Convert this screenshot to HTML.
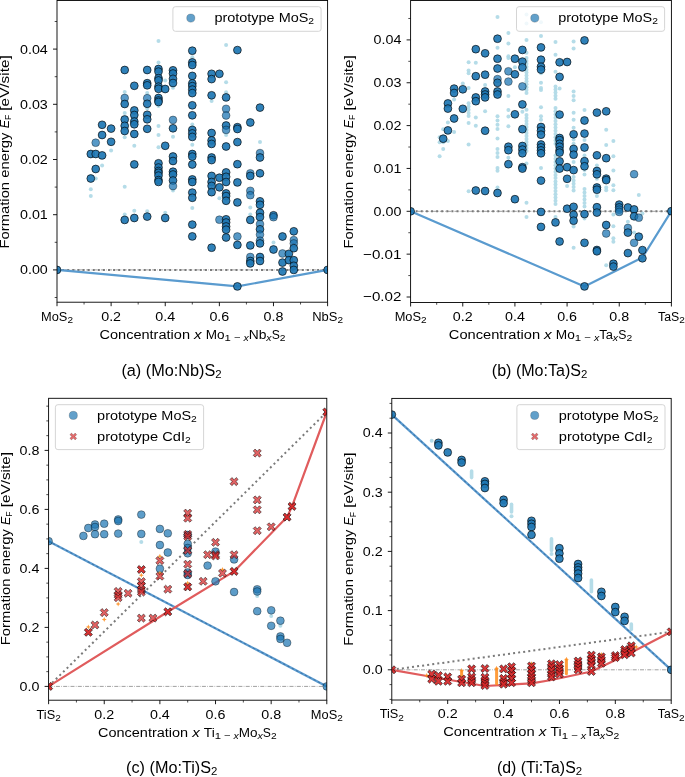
<!DOCTYPE html>
<html><head><meta charset="utf-8"><style>
html,body{margin:0;padding:0;background:#fff;}
svg{display:block;font-family:"Liberation Sans", sans-serif;will-change:transform;}
</style></head><body>
<svg width="685" height="777" viewBox="0 0 685 777">
<rect width="685" height="777" fill="#fff"/>
<clipPath id="clipa"><rect x="57" y="0.5" width="270.6" height="301.7"/></clipPath>
<g clip-path="url(#clipa)">
<line x1="57" y1="269.9" x2="327.6" y2="269.9" stroke="#a0a0a0" stroke-width="1" stroke-dasharray="4,1.3,0.7,1.3"/>
<line x1="57" y1="269.9" x2="327.6" y2="269.9" stroke="#7a7a7a" stroke-width="2.0" stroke-dasharray="2.0,3.1"/>
<circle cx="90.8" cy="189.2" r="2.0" fill="#add8e6" fill-opacity="0.9"/>
<circle cx="90.8" cy="195.9" r="2.0" fill="#add8e6" fill-opacity="0.9"/>
<circle cx="95.7" cy="178.6" r="2.0" fill="#add8e6" fill-opacity="0.9"/>
<circle cx="102.1" cy="165.4" r="2.0" fill="#add8e6" fill-opacity="0.9"/>
<circle cx="111.1" cy="150.6" r="2.0" fill="#add8e6" fill-opacity="0.9"/>
<circle cx="124.7" cy="91.9" r="2.0" fill="#add8e6" fill-opacity="0.9"/>
<circle cx="124.7" cy="113.0" r="2.0" fill="#add8e6" fill-opacity="0.9"/>
<circle cx="124.7" cy="137.3" r="2.0" fill="#add8e6" fill-opacity="0.9"/>
<circle cx="124.7" cy="186.8" r="2.0" fill="#add8e6" fill-opacity="0.9"/>
<circle cx="124.7" cy="214.5" r="2.0" fill="#add8e6" fill-opacity="0.9"/>
<circle cx="134.3" cy="145.8" r="2.0" fill="#add8e6" fill-opacity="0.9"/>
<circle cx="134.3" cy="210.8" r="2.0" fill="#add8e6" fill-opacity="0.9"/>
<circle cx="147.2" cy="93.0" r="2.0" fill="#add8e6" fill-opacity="0.9"/>
<circle cx="147.2" cy="108.4" r="2.0" fill="#add8e6" fill-opacity="0.9"/>
<circle cx="147.2" cy="211.3" r="2.0" fill="#add8e6" fill-opacity="0.9"/>
<circle cx="158.5" cy="40.9" r="2.0" fill="#add8e6" fill-opacity="0.9"/>
<circle cx="158.5" cy="62.6" r="2.0" fill="#add8e6" fill-opacity="0.9"/>
<circle cx="158.5" cy="106.0" r="2.0" fill="#add8e6" fill-opacity="0.9"/>
<circle cx="158.5" cy="126.0" r="2.0" fill="#add8e6" fill-opacity="0.9"/>
<circle cx="158.5" cy="135.0" r="2.0" fill="#add8e6" fill-opacity="0.9"/>
<circle cx="158.5" cy="147.2" r="2.0" fill="#add8e6" fill-opacity="0.9"/>
<circle cx="165.2" cy="80.5" r="2.0" fill="#add8e6" fill-opacity="0.9"/>
<circle cx="165.2" cy="212.7" r="2.0" fill="#add8e6" fill-opacity="0.9"/>
<circle cx="173.0" cy="87.7" r="2.0" fill="#add8e6" fill-opacity="0.9"/>
<circle cx="173.0" cy="136.7" r="2.0" fill="#add8e6" fill-opacity="0.9"/>
<circle cx="173.0" cy="190.6" r="2.0" fill="#add8e6" fill-opacity="0.9"/>
<circle cx="192.3" cy="57.2" r="2.0" fill="#add8e6" fill-opacity="0.9"/>
<circle cx="192.3" cy="124.6" r="2.0" fill="#add8e6" fill-opacity="0.9"/>
<circle cx="192.3" cy="144.8" r="2.0" fill="#add8e6" fill-opacity="0.9"/>
<circle cx="192.3" cy="208.0" r="2.0" fill="#add8e6" fill-opacity="0.9"/>
<circle cx="211.6" cy="101.0" r="2.0" fill="#add8e6" fill-opacity="0.9"/>
<circle cx="219.4" cy="198.2" r="2.0" fill="#add8e6" fill-opacity="0.9"/>
<circle cx="226.1" cy="44.9" r="2.0" fill="#add8e6" fill-opacity="0.9"/>
<circle cx="226.1" cy="82.2" r="2.0" fill="#add8e6" fill-opacity="0.9"/>
<circle cx="226.1" cy="92.2" r="2.0" fill="#add8e6" fill-opacity="0.9"/>
<circle cx="226.1" cy="135.1" r="2.0" fill="#add8e6" fill-opacity="0.9"/>
<circle cx="250.3" cy="207.4" r="2.0" fill="#add8e6" fill-opacity="0.9"/>
<circle cx="250.3" cy="214.5" r="2.0" fill="#add8e6" fill-opacity="0.9"/>
<circle cx="260.0" cy="142.1" r="2.0" fill="#add8e6" fill-opacity="0.9"/>
<circle cx="273.5" cy="242.6" r="2.0" fill="#add8e6" fill-opacity="0.9"/>
<path d="M57.00,269.90 L237.40,286.40 L327.60,269.90" fill="none" stroke="#5a9bcf" stroke-width="2.2" stroke-linejoin="round"/>
<circle cx="90.8" cy="154.0" r="3.9" fill="#1f77b4" fill-opacity="0.93" stroke="#000" stroke-opacity="0.8" stroke-width="0.8"/>
<circle cx="90.8" cy="178.5" r="3.9" fill="#1f77b4" fill-opacity="0.93" stroke="#000" stroke-opacity="0.8" stroke-width="0.8"/>
<circle cx="95.7" cy="142.7" r="3.9" fill="#1f77b4" fill-opacity="0.75" stroke="#000" stroke-opacity="0.45" stroke-width="0.8"/>
<circle cx="95.7" cy="154.0" r="3.9" fill="#1f77b4" fill-opacity="0.93" stroke="#000" stroke-opacity="0.8" stroke-width="0.8"/>
<circle cx="95.7" cy="169.0" r="3.9" fill="#1f77b4" fill-opacity="0.93" stroke="#000" stroke-opacity="0.8" stroke-width="0.8"/>
<circle cx="102.1" cy="124.8" r="3.9" fill="#1f77b4" fill-opacity="0.93" stroke="#000" stroke-opacity="0.8" stroke-width="0.8"/>
<circle cx="102.1" cy="135.0" r="3.9" fill="#1f77b4" fill-opacity="0.93" stroke="#000" stroke-opacity="0.8" stroke-width="0.8"/>
<circle cx="102.1" cy="155.4" r="3.9" fill="#1f77b4" fill-opacity="0.93" stroke="#000" stroke-opacity="0.8" stroke-width="0.8"/>
<circle cx="111.1" cy="128.6" r="3.9" fill="#1f77b4" fill-opacity="0.93" stroke="#000" stroke-opacity="0.8" stroke-width="0.8"/>
<circle cx="111.1" cy="141.8" r="3.9" fill="#1f77b4" fill-opacity="0.93" stroke="#000" stroke-opacity="0.8" stroke-width="0.8"/>
<circle cx="124.7" cy="70.0" r="3.9" fill="#1f77b4" fill-opacity="0.93" stroke="#000" stroke-opacity="0.8" stroke-width="0.8"/>
<circle cx="124.7" cy="98.0" r="3.9" fill="#1f77b4" fill-opacity="0.75" stroke="#000" stroke-opacity="0.45" stroke-width="0.8"/>
<circle cx="124.7" cy="104.0" r="3.9" fill="#1f77b4" fill-opacity="0.93" stroke="#000" stroke-opacity="0.8" stroke-width="0.8"/>
<circle cx="124.7" cy="119.5" r="3.9" fill="#1f77b4" fill-opacity="0.93" stroke="#000" stroke-opacity="0.8" stroke-width="0.8"/>
<circle cx="124.7" cy="125.8" r="3.9" fill="#1f77b4" fill-opacity="0.93" stroke="#000" stroke-opacity="0.8" stroke-width="0.8"/>
<circle cx="124.7" cy="131.0" r="3.9" fill="#1f77b4" fill-opacity="0.93" stroke="#000" stroke-opacity="0.8" stroke-width="0.8"/>
<circle cx="124.7" cy="219.9" r="3.9" fill="#1f77b4" fill-opacity="0.93" stroke="#000" stroke-opacity="0.8" stroke-width="0.8"/>
<circle cx="134.3" cy="85.8" r="3.9" fill="#1f77b4" fill-opacity="0.93" stroke="#000" stroke-opacity="0.8" stroke-width="0.8"/>
<circle cx="134.3" cy="110.4" r="3.9" fill="#1f77b4" fill-opacity="0.93" stroke="#000" stroke-opacity="0.8" stroke-width="0.8"/>
<circle cx="134.3" cy="115.0" r="3.9" fill="#1f77b4" fill-opacity="0.93" stroke="#000" stroke-opacity="0.8" stroke-width="0.8"/>
<circle cx="134.3" cy="121.5" r="3.9" fill="#1f77b4" fill-opacity="0.93" stroke="#000" stroke-opacity="0.8" stroke-width="0.8"/>
<circle cx="134.3" cy="124.3" r="3.9" fill="#1f77b4" fill-opacity="0.93" stroke="#000" stroke-opacity="0.8" stroke-width="0.8"/>
<circle cx="134.3" cy="134.0" r="3.9" fill="#1f77b4" fill-opacity="0.93" stroke="#000" stroke-opacity="0.8" stroke-width="0.8"/>
<circle cx="134.3" cy="164.4" r="3.9" fill="#1f77b4" fill-opacity="0.93" stroke="#000" stroke-opacity="0.8" stroke-width="0.8"/>
<circle cx="134.3" cy="218.0" r="3.9" fill="#1f77b4" fill-opacity="0.93" stroke="#000" stroke-opacity="0.8" stroke-width="0.8"/>
<circle cx="147.2" cy="70.0" r="3.9" fill="#1f77b4" fill-opacity="0.93" stroke="#000" stroke-opacity="0.8" stroke-width="0.8"/>
<circle cx="147.2" cy="83.2" r="3.9" fill="#1f77b4" fill-opacity="0.93" stroke="#000" stroke-opacity="0.8" stroke-width="0.8"/>
<circle cx="147.2" cy="85.3" r="3.9" fill="#1f77b4" fill-opacity="0.93" stroke="#000" stroke-opacity="0.8" stroke-width="0.8"/>
<circle cx="147.2" cy="98.2" r="3.9" fill="#1f77b4" fill-opacity="0.75" stroke="#000" stroke-opacity="0.45" stroke-width="0.8"/>
<circle cx="147.2" cy="103.8" r="3.9" fill="#1f77b4" fill-opacity="0.93" stroke="#000" stroke-opacity="0.8" stroke-width="0.8"/>
<circle cx="147.2" cy="114.8" r="3.9" fill="#1f77b4" fill-opacity="0.93" stroke="#000" stroke-opacity="0.8" stroke-width="0.8"/>
<circle cx="147.2" cy="119.3" r="3.9" fill="#1f77b4" fill-opacity="0.93" stroke="#000" stroke-opacity="0.8" stroke-width="0.8"/>
<circle cx="147.2" cy="128.8" r="3.9" fill="#1f77b4" fill-opacity="0.93" stroke="#000" stroke-opacity="0.8" stroke-width="0.8"/>
<circle cx="147.2" cy="216.6" r="3.9" fill="#1f77b4" fill-opacity="0.93" stroke="#000" stroke-opacity="0.8" stroke-width="0.8"/>
<circle cx="158.5" cy="69.0" r="3.9" fill="#1f77b4" fill-opacity="0.93" stroke="#000" stroke-opacity="0.8" stroke-width="0.8"/>
<circle cx="158.5" cy="71.6" r="3.9" fill="#1f77b4" fill-opacity="0.93" stroke="#000" stroke-opacity="0.8" stroke-width="0.8"/>
<circle cx="158.5" cy="78.2" r="3.9" fill="#1f77b4" fill-opacity="0.93" stroke="#000" stroke-opacity="0.8" stroke-width="0.8"/>
<circle cx="158.5" cy="80.4" r="3.9" fill="#1f77b4" fill-opacity="0.93" stroke="#000" stroke-opacity="0.8" stroke-width="0.8"/>
<circle cx="158.5" cy="86.6" r="3.9" fill="#1f77b4" fill-opacity="0.93" stroke="#000" stroke-opacity="0.8" stroke-width="0.8"/>
<circle cx="158.5" cy="88.8" r="3.9" fill="#1f77b4" fill-opacity="0.93" stroke="#000" stroke-opacity="0.8" stroke-width="0.8"/>
<circle cx="158.5" cy="98.0" r="3.9" fill="#1f77b4" fill-opacity="0.93" stroke="#000" stroke-opacity="0.8" stroke-width="0.8"/>
<circle cx="158.5" cy="100.5" r="3.9" fill="#1f77b4" fill-opacity="0.93" stroke="#000" stroke-opacity="0.8" stroke-width="0.8"/>
<circle cx="158.5" cy="102.0" r="3.9" fill="#1f77b4" fill-opacity="0.93" stroke="#000" stroke-opacity="0.8" stroke-width="0.8"/>
<circle cx="158.5" cy="163.3" r="3.9" fill="#1f77b4" fill-opacity="0.93" stroke="#000" stroke-opacity="0.8" stroke-width="0.8"/>
<circle cx="158.5" cy="167.5" r="3.9" fill="#1f77b4" fill-opacity="0.93" stroke="#000" stroke-opacity="0.8" stroke-width="0.8"/>
<circle cx="158.5" cy="171.0" r="3.9" fill="#1f77b4" fill-opacity="0.93" stroke="#000" stroke-opacity="0.8" stroke-width="0.8"/>
<circle cx="158.5" cy="172.8" r="3.9" fill="#1f77b4" fill-opacity="0.93" stroke="#000" stroke-opacity="0.8" stroke-width="0.8"/>
<circle cx="158.5" cy="175.6" r="3.9" fill="#1f77b4" fill-opacity="0.93" stroke="#000" stroke-opacity="0.8" stroke-width="0.8"/>
<circle cx="158.5" cy="180.1" r="3.9" fill="#1f77b4" fill-opacity="0.93" stroke="#000" stroke-opacity="0.8" stroke-width="0.8"/>
<circle cx="158.5" cy="181.9" r="3.9" fill="#1f77b4" fill-opacity="0.93" stroke="#000" stroke-opacity="0.8" stroke-width="0.8"/>
<circle cx="165.2" cy="89.0" r="3.9" fill="#1f77b4" fill-opacity="0.93" stroke="#000" stroke-opacity="0.8" stroke-width="0.8"/>
<circle cx="165.2" cy="145.8" r="3.9" fill="#1f77b4" fill-opacity="0.93" stroke="#000" stroke-opacity="0.8" stroke-width="0.8"/>
<circle cx="165.2" cy="218.0" r="3.9" fill="#1f77b4" fill-opacity="0.93" stroke="#000" stroke-opacity="0.8" stroke-width="0.8"/>
<circle cx="173.0" cy="70.3" r="3.9" fill="#1f77b4" fill-opacity="0.93" stroke="#000" stroke-opacity="0.8" stroke-width="0.8"/>
<circle cx="173.0" cy="73.5" r="3.9" fill="#1f77b4" fill-opacity="0.93" stroke="#000" stroke-opacity="0.8" stroke-width="0.8"/>
<circle cx="173.0" cy="78.8" r="3.9" fill="#1f77b4" fill-opacity="0.93" stroke="#000" stroke-opacity="0.8" stroke-width="0.8"/>
<circle cx="173.0" cy="83.0" r="3.9" fill="#1f77b4" fill-opacity="0.93" stroke="#000" stroke-opacity="0.8" stroke-width="0.8"/>
<circle cx="173.0" cy="119.9" r="3.9" fill="#1f77b4" fill-opacity="0.75" stroke="#000" stroke-opacity="0.45" stroke-width="0.8"/>
<circle cx="173.0" cy="128.3" r="3.9" fill="#1f77b4" fill-opacity="0.93" stroke="#000" stroke-opacity="0.8" stroke-width="0.8"/>
<circle cx="173.0" cy="156.5" r="3.9" fill="#1f77b4" fill-opacity="0.93" stroke="#000" stroke-opacity="0.8" stroke-width="0.8"/>
<circle cx="173.0" cy="161.0" r="3.9" fill="#1f77b4" fill-opacity="0.93" stroke="#000" stroke-opacity="0.8" stroke-width="0.8"/>
<circle cx="173.0" cy="171.7" r="3.9" fill="#1f77b4" fill-opacity="0.93" stroke="#000" stroke-opacity="0.8" stroke-width="0.8"/>
<circle cx="173.0" cy="174.5" r="3.9" fill="#1f77b4" fill-opacity="0.93" stroke="#000" stroke-opacity="0.8" stroke-width="0.8"/>
<circle cx="173.0" cy="180.5" r="3.9" fill="#1f77b4" fill-opacity="0.93" stroke="#000" stroke-opacity="0.8" stroke-width="0.8"/>
<circle cx="173.0" cy="186.1" r="3.9" fill="#1f77b4" fill-opacity="0.75" stroke="#000" stroke-opacity="0.45" stroke-width="0.8"/>
<circle cx="192.3" cy="50.7" r="3.9" fill="#1f77b4" fill-opacity="0.93" stroke="#000" stroke-opacity="0.8" stroke-width="0.8"/>
<circle cx="192.3" cy="62.4" r="3.9" fill="#1f77b4" fill-opacity="0.93" stroke="#000" stroke-opacity="0.8" stroke-width="0.8"/>
<circle cx="192.3" cy="65.0" r="3.9" fill="#1f77b4" fill-opacity="0.93" stroke="#000" stroke-opacity="0.8" stroke-width="0.8"/>
<circle cx="192.3" cy="75.9" r="3.9" fill="#1f77b4" fill-opacity="0.93" stroke="#000" stroke-opacity="0.8" stroke-width="0.8"/>
<circle cx="192.3" cy="83.4" r="3.9" fill="#1f77b4" fill-opacity="0.93" stroke="#000" stroke-opacity="0.8" stroke-width="0.8"/>
<circle cx="192.3" cy="86.1" r="3.9" fill="#1f77b4" fill-opacity="0.93" stroke="#000" stroke-opacity="0.8" stroke-width="0.8"/>
<circle cx="192.3" cy="89.6" r="3.9" fill="#1f77b4" fill-opacity="0.93" stroke="#000" stroke-opacity="0.8" stroke-width="0.8"/>
<circle cx="192.3" cy="93.1" r="3.9" fill="#1f77b4" fill-opacity="0.93" stroke="#000" stroke-opacity="0.8" stroke-width="0.8"/>
<circle cx="192.3" cy="105.3" r="3.9" fill="#1f77b4" fill-opacity="0.93" stroke="#000" stroke-opacity="0.8" stroke-width="0.8"/>
<circle cx="192.3" cy="115.3" r="3.9" fill="#1f77b4" fill-opacity="0.93" stroke="#000" stroke-opacity="0.8" stroke-width="0.8"/>
<circle cx="192.3" cy="129.9" r="3.9" fill="#1f77b4" fill-opacity="0.93" stroke="#000" stroke-opacity="0.8" stroke-width="0.8"/>
<circle cx="192.3" cy="133.4" r="3.9" fill="#1f77b4" fill-opacity="0.93" stroke="#000" stroke-opacity="0.8" stroke-width="0.8"/>
<circle cx="192.3" cy="136.9" r="3.9" fill="#1f77b4" fill-opacity="0.93" stroke="#000" stroke-opacity="0.8" stroke-width="0.8"/>
<circle cx="192.3" cy="154.0" r="3.9" fill="#1f77b4" fill-opacity="0.93" stroke="#000" stroke-opacity="0.8" stroke-width="0.8"/>
<circle cx="192.3" cy="156.6" r="3.9" fill="#1f77b4" fill-opacity="0.93" stroke="#000" stroke-opacity="0.8" stroke-width="0.8"/>
<circle cx="192.3" cy="164.5" r="3.9" fill="#1f77b4" fill-opacity="0.93" stroke="#000" stroke-opacity="0.8" stroke-width="0.8"/>
<circle cx="192.3" cy="179.4" r="3.9" fill="#1f77b4" fill-opacity="0.93" stroke="#000" stroke-opacity="0.8" stroke-width="0.8"/>
<circle cx="192.3" cy="182.0" r="3.9" fill="#1f77b4" fill-opacity="0.93" stroke="#000" stroke-opacity="0.8" stroke-width="0.8"/>
<circle cx="192.3" cy="192.6" r="3.9" fill="#1f77b4" fill-opacity="0.93" stroke="#000" stroke-opacity="0.8" stroke-width="0.8"/>
<circle cx="192.3" cy="197.8" r="3.9" fill="#1f77b4" fill-opacity="0.93" stroke="#000" stroke-opacity="0.8" stroke-width="0.8"/>
<circle cx="192.3" cy="224.6" r="3.9" fill="#1f77b4" fill-opacity="0.93" stroke="#000" stroke-opacity="0.8" stroke-width="0.8"/>
<circle cx="192.3" cy="236.4" r="3.9" fill="#1f77b4" fill-opacity="0.93" stroke="#000" stroke-opacity="0.8" stroke-width="0.8"/>
<circle cx="211.6" cy="73.8" r="3.9" fill="#1f77b4" fill-opacity="0.93" stroke="#000" stroke-opacity="0.8" stroke-width="0.8"/>
<circle cx="211.6" cy="79.1" r="3.9" fill="#1f77b4" fill-opacity="0.93" stroke="#000" stroke-opacity="0.8" stroke-width="0.8"/>
<circle cx="211.6" cy="95.3" r="3.9" fill="#1f77b4" fill-opacity="0.93" stroke="#000" stroke-opacity="0.8" stroke-width="0.8"/>
<circle cx="211.6" cy="133.0" r="3.9" fill="#1f77b4" fill-opacity="0.93" stroke="#000" stroke-opacity="0.8" stroke-width="0.8"/>
<circle cx="211.6" cy="140.4" r="3.9" fill="#1f77b4" fill-opacity="0.93" stroke="#000" stroke-opacity="0.8" stroke-width="0.8"/>
<circle cx="211.6" cy="143.9" r="3.9" fill="#1f77b4" fill-opacity="0.93" stroke="#000" stroke-opacity="0.8" stroke-width="0.8"/>
<circle cx="211.6" cy="157.5" r="3.9" fill="#1f77b4" fill-opacity="0.93" stroke="#000" stroke-opacity="0.8" stroke-width="0.8"/>
<circle cx="211.6" cy="160.1" r="3.9" fill="#1f77b4" fill-opacity="0.93" stroke="#000" stroke-opacity="0.8" stroke-width="0.8"/>
<circle cx="211.6" cy="175.9" r="3.9" fill="#1f77b4" fill-opacity="0.93" stroke="#000" stroke-opacity="0.8" stroke-width="0.8"/>
<circle cx="211.6" cy="182.0" r="3.9" fill="#1f77b4" fill-opacity="0.93" stroke="#000" stroke-opacity="0.8" stroke-width="0.8"/>
<circle cx="211.6" cy="185.9" r="3.9" fill="#1f77b4" fill-opacity="0.93" stroke="#000" stroke-opacity="0.8" stroke-width="0.8"/>
<circle cx="211.6" cy="192.2" r="3.9" fill="#1f77b4" fill-opacity="0.93" stroke="#000" stroke-opacity="0.8" stroke-width="0.8"/>
<circle cx="211.6" cy="247.7" r="3.9" fill="#1f77b4" fill-opacity="0.93" stroke="#000" stroke-opacity="0.8" stroke-width="0.8"/>
<circle cx="219.4" cy="73.8" r="3.9" fill="#1f77b4" fill-opacity="0.93" stroke="#000" stroke-opacity="0.8" stroke-width="0.8"/>
<circle cx="219.4" cy="177.7" r="3.9" fill="#1f77b4" fill-opacity="0.93" stroke="#000" stroke-opacity="0.8" stroke-width="0.8"/>
<circle cx="219.4" cy="187.3" r="3.9" fill="#1f77b4" fill-opacity="0.93" stroke="#000" stroke-opacity="0.8" stroke-width="0.8"/>
<circle cx="219.4" cy="219.7" r="3.9" fill="#1f77b4" fill-opacity="0.75" stroke="#000" stroke-opacity="0.45" stroke-width="0.8"/>
<circle cx="226.1" cy="97.4" r="3.9" fill="#1f77b4" fill-opacity="0.93" stroke="#000" stroke-opacity="0.8" stroke-width="0.8"/>
<circle cx="226.1" cy="108.8" r="3.9" fill="#1f77b4" fill-opacity="0.75" stroke="#000" stroke-opacity="0.45" stroke-width="0.8"/>
<circle cx="226.1" cy="115.5" r="3.9" fill="#1f77b4" fill-opacity="0.75" stroke="#000" stroke-opacity="0.45" stroke-width="0.8"/>
<circle cx="226.1" cy="125.5" r="3.9" fill="#1f77b4" fill-opacity="0.93" stroke="#000" stroke-opacity="0.8" stroke-width="0.8"/>
<circle cx="226.1" cy="129.9" r="3.9" fill="#1f77b4" fill-opacity="0.75" stroke="#000" stroke-opacity="0.45" stroke-width="0.8"/>
<circle cx="226.1" cy="146.5" r="3.9" fill="#1f77b4" fill-opacity="0.93" stroke="#000" stroke-opacity="0.8" stroke-width="0.8"/>
<circle cx="226.1" cy="172.4" r="3.9" fill="#1f77b4" fill-opacity="0.93" stroke="#000" stroke-opacity="0.8" stroke-width="0.8"/>
<circle cx="226.1" cy="176.8" r="3.9" fill="#1f77b4" fill-opacity="0.93" stroke="#000" stroke-opacity="0.8" stroke-width="0.8"/>
<circle cx="226.1" cy="182.0" r="3.9" fill="#1f77b4" fill-opacity="0.93" stroke="#000" stroke-opacity="0.8" stroke-width="0.8"/>
<circle cx="226.1" cy="193.4" r="3.9" fill="#1f77b4" fill-opacity="0.93" stroke="#000" stroke-opacity="0.8" stroke-width="0.8"/>
<circle cx="226.1" cy="196.1" r="3.9" fill="#1f77b4" fill-opacity="0.93" stroke="#000" stroke-opacity="0.8" stroke-width="0.8"/>
<circle cx="226.1" cy="200.8" r="3.9" fill="#1f77b4" fill-opacity="0.93" stroke="#000" stroke-opacity="0.8" stroke-width="0.8"/>
<circle cx="226.1" cy="219.3" r="3.9" fill="#1f77b4" fill-opacity="0.93" stroke="#000" stroke-opacity="0.8" stroke-width="0.8"/>
<circle cx="226.1" cy="222.5" r="3.9" fill="#1f77b4" fill-opacity="0.93" stroke="#000" stroke-opacity="0.8" stroke-width="0.8"/>
<circle cx="226.1" cy="226.5" r="3.9" fill="#1f77b4" fill-opacity="0.93" stroke="#000" stroke-opacity="0.8" stroke-width="0.8"/>
<circle cx="226.1" cy="229.7" r="3.9" fill="#1f77b4" fill-opacity="0.93" stroke="#000" stroke-opacity="0.8" stroke-width="0.8"/>
<circle cx="226.1" cy="237.5" r="3.9" fill="#1f77b4" fill-opacity="0.93" stroke="#000" stroke-opacity="0.8" stroke-width="0.8"/>
<circle cx="237.4" cy="50.1" r="3.9" fill="#1f77b4" fill-opacity="0.93" stroke="#000" stroke-opacity="0.8" stroke-width="0.8"/>
<circle cx="237.4" cy="127.2" r="3.9" fill="#1f77b4" fill-opacity="0.93" stroke="#000" stroke-opacity="0.8" stroke-width="0.8"/>
<circle cx="237.4" cy="129.0" r="3.9" fill="#1f77b4" fill-opacity="0.93" stroke="#000" stroke-opacity="0.8" stroke-width="0.8"/>
<circle cx="237.4" cy="142.1" r="3.9" fill="#1f77b4" fill-opacity="0.93" stroke="#000" stroke-opacity="0.8" stroke-width="0.8"/>
<circle cx="237.4" cy="164.2" r="3.9" fill="#1f77b4" fill-opacity="0.93" stroke="#000" stroke-opacity="0.8" stroke-width="0.8"/>
<circle cx="237.4" cy="182.4" r="3.9" fill="#1f77b4" fill-opacity="0.93" stroke="#000" stroke-opacity="0.8" stroke-width="0.8"/>
<circle cx="237.4" cy="202.4" r="3.9" fill="#1f77b4" fill-opacity="0.93" stroke="#000" stroke-opacity="0.8" stroke-width="0.8"/>
<circle cx="237.4" cy="236.5" r="3.9" fill="#1f77b4" fill-opacity="0.75" stroke="#000" stroke-opacity="0.45" stroke-width="0.8"/>
<circle cx="237.4" cy="244.9" r="3.9" fill="#1f77b4" fill-opacity="0.93" stroke="#000" stroke-opacity="0.8" stroke-width="0.8"/>
<circle cx="237.4" cy="286.4" r="3.9" fill="#1f77b4" fill-opacity="0.93" stroke="#000" stroke-opacity="0.8" stroke-width="0.8"/>
<circle cx="250.3" cy="122.5" r="3.9" fill="#1f77b4" fill-opacity="0.93" stroke="#000" stroke-opacity="0.8" stroke-width="0.8"/>
<circle cx="250.3" cy="173.3" r="3.9" fill="#1f77b4" fill-opacity="0.75" stroke="#000" stroke-opacity="0.45" stroke-width="0.8"/>
<circle cx="250.3" cy="175.9" r="3.9" fill="#1f77b4" fill-opacity="0.93" stroke="#000" stroke-opacity="0.8" stroke-width="0.8"/>
<circle cx="250.3" cy="190.8" r="3.9" fill="#1f77b4" fill-opacity="0.75" stroke="#000" stroke-opacity="0.45" stroke-width="0.8"/>
<circle cx="250.3" cy="195.2" r="3.9" fill="#1f77b4" fill-opacity="0.75" stroke="#000" stroke-opacity="0.45" stroke-width="0.8"/>
<circle cx="250.3" cy="219.9" r="3.9" fill="#1f77b4" fill-opacity="0.93" stroke="#000" stroke-opacity="0.8" stroke-width="0.8"/>
<circle cx="250.3" cy="245.4" r="3.9" fill="#1f77b4" fill-opacity="0.93" stroke="#000" stroke-opacity="0.8" stroke-width="0.8"/>
<circle cx="250.3" cy="257.0" r="3.9" fill="#1f77b4" fill-opacity="0.75" stroke="#000" stroke-opacity="0.45" stroke-width="0.8"/>
<circle cx="250.3" cy="261.0" r="3.9" fill="#1f77b4" fill-opacity="0.93" stroke="#000" stroke-opacity="0.8" stroke-width="0.8"/>
<circle cx="250.3" cy="263.4" r="3.9" fill="#1f77b4" fill-opacity="0.93" stroke="#000" stroke-opacity="0.8" stroke-width="0.8"/>
<circle cx="260.0" cy="107.6" r="3.9" fill="#1f77b4" fill-opacity="0.93" stroke="#000" stroke-opacity="0.8" stroke-width="0.8"/>
<circle cx="260.0" cy="153.1" r="3.9" fill="#1f77b4" fill-opacity="0.75" stroke="#000" stroke-opacity="0.45" stroke-width="0.8"/>
<circle cx="260.0" cy="157.5" r="3.9" fill="#1f77b4" fill-opacity="0.93" stroke="#000" stroke-opacity="0.8" stroke-width="0.8"/>
<circle cx="260.0" cy="173.3" r="3.9" fill="#1f77b4" fill-opacity="0.93" stroke="#000" stroke-opacity="0.8" stroke-width="0.8"/>
<circle cx="260.0" cy="201.3" r="3.9" fill="#1f77b4" fill-opacity="0.93" stroke="#000" stroke-opacity="0.8" stroke-width="0.8"/>
<circle cx="260.0" cy="204.8" r="3.9" fill="#1f77b4" fill-opacity="0.93" stroke="#000" stroke-opacity="0.8" stroke-width="0.8"/>
<circle cx="260.0" cy="212.7" r="3.9" fill="#1f77b4" fill-opacity="0.93" stroke="#000" stroke-opacity="0.8" stroke-width="0.8"/>
<circle cx="260.0" cy="217.1" r="3.9" fill="#1f77b4" fill-opacity="0.93" stroke="#000" stroke-opacity="0.8" stroke-width="0.8"/>
<circle cx="260.0" cy="224.1" r="3.9" fill="#1f77b4" fill-opacity="0.75" stroke="#000" stroke-opacity="0.45" stroke-width="0.8"/>
<circle cx="260.0" cy="229.3" r="3.9" fill="#1f77b4" fill-opacity="0.93" stroke="#000" stroke-opacity="0.8" stroke-width="0.8"/>
<circle cx="260.0" cy="234.6" r="3.9" fill="#1f77b4" fill-opacity="0.75" stroke="#000" stroke-opacity="0.45" stroke-width="0.8"/>
<circle cx="260.0" cy="240.7" r="3.9" fill="#1f77b4" fill-opacity="0.75" stroke="#000" stroke-opacity="0.45" stroke-width="0.8"/>
<circle cx="260.0" cy="243.4" r="3.9" fill="#1f77b4" fill-opacity="0.93" stroke="#000" stroke-opacity="0.8" stroke-width="0.8"/>
<circle cx="260.0" cy="257.0" r="3.9" fill="#1f77b4" fill-opacity="0.93" stroke="#000" stroke-opacity="0.8" stroke-width="0.8"/>
<circle cx="260.0" cy="261.0" r="3.9" fill="#1f77b4" fill-opacity="0.93" stroke="#000" stroke-opacity="0.8" stroke-width="0.8"/>
<circle cx="273.5" cy="215.3" r="3.9" fill="#1f77b4" fill-opacity="0.93" stroke="#000" stroke-opacity="0.8" stroke-width="0.8"/>
<circle cx="273.5" cy="217.2" r="3.9" fill="#1f77b4" fill-opacity="0.75" stroke="#000" stroke-opacity="0.45" stroke-width="0.8"/>
<circle cx="273.5" cy="249.5" r="3.9" fill="#1f77b4" fill-opacity="0.93" stroke="#000" stroke-opacity="0.8" stroke-width="0.8"/>
<circle cx="282.5" cy="236.5" r="3.9" fill="#1f77b4" fill-opacity="0.93" stroke="#000" stroke-opacity="0.8" stroke-width="0.8"/>
<circle cx="282.5" cy="253.5" r="3.9" fill="#1f77b4" fill-opacity="0.75" stroke="#000" stroke-opacity="0.45" stroke-width="0.8"/>
<circle cx="282.5" cy="262.6" r="3.9" fill="#1f77b4" fill-opacity="0.93" stroke="#000" stroke-opacity="0.8" stroke-width="0.8"/>
<circle cx="282.5" cy="271.5" r="3.9" fill="#1f77b4" fill-opacity="0.93" stroke="#000" stroke-opacity="0.8" stroke-width="0.8"/>
<circle cx="288.9" cy="253.8" r="3.9" fill="#1f77b4" fill-opacity="0.93" stroke="#000" stroke-opacity="0.8" stroke-width="0.8"/>
<circle cx="288.9" cy="260.2" r="3.9" fill="#1f77b4" fill-opacity="0.93" stroke="#000" stroke-opacity="0.8" stroke-width="0.8"/>
<circle cx="293.8" cy="231.3" r="3.9" fill="#1f77b4" fill-opacity="0.93" stroke="#000" stroke-opacity="0.8" stroke-width="0.8"/>
<circle cx="293.8" cy="240.1" r="3.9" fill="#1f77b4" fill-opacity="0.75" stroke="#000" stroke-opacity="0.45" stroke-width="0.8"/>
<circle cx="293.8" cy="243.4" r="3.9" fill="#1f77b4" fill-opacity="0.75" stroke="#000" stroke-opacity="0.45" stroke-width="0.8"/>
<circle cx="293.8" cy="248.2" r="3.9" fill="#1f77b4" fill-opacity="0.93" stroke="#000" stroke-opacity="0.8" stroke-width="0.8"/>
<circle cx="293.8" cy="260.2" r="3.9" fill="#1f77b4" fill-opacity="0.93" stroke="#000" stroke-opacity="0.8" stroke-width="0.8"/>
<circle cx="293.8" cy="265.8" r="3.9" fill="#1f77b4" fill-opacity="0.93" stroke="#000" stroke-opacity="0.8" stroke-width="0.8"/>
<circle cx="293.8" cy="269.9" r="3.9" fill="#1f77b4" fill-opacity="0.93" stroke="#000" stroke-opacity="0.8" stroke-width="0.8"/>
<circle cx="57.0" cy="269.9" r="3.9" fill="#1f77b4" fill-opacity="0.93" stroke="#000" stroke-opacity="0.8" stroke-width="0.8"/>
<circle cx="327.6" cy="269.9" r="3.9" fill="#1f77b4" fill-opacity="0.93" stroke="#000" stroke-opacity="0.8" stroke-width="0.8"/>
</g>
<rect x="57" y="0.5" width="270.6" height="301.7" fill="none" stroke="#000" stroke-width="0.9"/>
<line x1="53.0" y1="269.90" x2="57" y2="269.90" stroke="#000" stroke-width="0.9"/>
<g transform="translate(47.80,274.30)" fill="#000"><text x="-27.83" y="0.00" font-size="13.25" textLength="27.83" lengthAdjust="spacingAndGlyphs">0.00</text></g>
<line x1="53.0" y1="214.70" x2="57" y2="214.70" stroke="#000" stroke-width="0.9"/>
<g transform="translate(47.80,219.10)" fill="#000"><text x="-27.83" y="0.00" font-size="13.25" textLength="27.83" lengthAdjust="spacingAndGlyphs">0.01</text></g>
<line x1="53.0" y1="159.50" x2="57" y2="159.50" stroke="#000" stroke-width="0.9"/>
<g transform="translate(47.80,163.90)" fill="#000"><text x="-27.83" y="0.00" font-size="13.25" textLength="27.83" lengthAdjust="spacingAndGlyphs">0.02</text></g>
<line x1="53.0" y1="104.30" x2="57" y2="104.30" stroke="#000" stroke-width="0.9"/>
<g transform="translate(47.80,108.70)" fill="#000"><text x="-27.83" y="0.00" font-size="13.25" textLength="27.83" lengthAdjust="spacingAndGlyphs">0.03</text></g>
<line x1="53.0" y1="49.10" x2="57" y2="49.10" stroke="#000" stroke-width="0.9"/>
<g transform="translate(47.80,53.50)" fill="#000"><text x="-27.83" y="0.00" font-size="13.25" textLength="27.83" lengthAdjust="spacingAndGlyphs">0.04</text></g>
<line x1="54.7" y1="297.50" x2="57" y2="297.50" stroke="#000" stroke-width="0.7"/>
<line x1="54.7" y1="242.30" x2="57" y2="242.30" stroke="#000" stroke-width="0.7"/>
<line x1="54.7" y1="187.10" x2="57" y2="187.10" stroke="#000" stroke-width="0.7"/>
<line x1="54.7" y1="131.90" x2="57" y2="131.90" stroke="#000" stroke-width="0.7"/>
<line x1="54.7" y1="76.70" x2="57" y2="76.70" stroke="#000" stroke-width="0.7"/>
<line x1="54.7" y1="21.50" x2="57" y2="21.50" stroke="#000" stroke-width="0.7"/>
<line x1="57.00" y1="302.2" x2="57.00" y2="306.2" stroke="#000" stroke-width="0.9"/>
<g transform="translate(57.00,320.60)" fill="#000"><text x="-15.97" y="0.00" font-size="13.25" textLength="26.37" lengthAdjust="spacingAndGlyphs">MoS</text><text x="10.40" y="2.12" font-size="9.28" textLength="5.57" lengthAdjust="spacingAndGlyphs">2</text></g>
<line x1="111.12" y1="302.2" x2="111.12" y2="306.2" stroke="#000" stroke-width="0.9"/>
<g transform="translate(111.12,320.60)" fill="#000"><text x="-9.94" y="0.00" font-size="13.25" textLength="19.88" lengthAdjust="spacingAndGlyphs">0.2</text></g>
<line x1="165.24" y1="302.2" x2="165.24" y2="306.2" stroke="#000" stroke-width="0.9"/>
<g transform="translate(165.24,320.60)" fill="#000"><text x="-9.94" y="0.00" font-size="13.25" textLength="19.88" lengthAdjust="spacingAndGlyphs">0.4</text></g>
<line x1="219.36" y1="302.2" x2="219.36" y2="306.2" stroke="#000" stroke-width="0.9"/>
<g transform="translate(219.36,320.60)" fill="#000"><text x="-9.94" y="0.00" font-size="13.25" textLength="19.88" lengthAdjust="spacingAndGlyphs">0.6</text></g>
<line x1="273.48" y1="302.2" x2="273.48" y2="306.2" stroke="#000" stroke-width="0.9"/>
<g transform="translate(273.48,320.60)" fill="#000"><text x="-9.94" y="0.00" font-size="13.25" textLength="19.88" lengthAdjust="spacingAndGlyphs">0.8</text></g>
<line x1="327.60" y1="302.2" x2="327.60" y2="306.2" stroke="#000" stroke-width="0.9"/>
<g transform="translate(327.60,320.60)" fill="#000"><text x="-15.39" y="0.00" font-size="13.25" textLength="25.22" lengthAdjust="spacingAndGlyphs">NbS</text><text x="9.83" y="2.12" font-size="9.28" textLength="5.57" lengthAdjust="spacingAndGlyphs">2</text></g>
<line x1="84.06" y1="302.2" x2="84.06" y2="304.5" stroke="#000" stroke-width="0.7"/>
<line x1="138.18" y1="302.2" x2="138.18" y2="304.5" stroke="#000" stroke-width="0.7"/>
<line x1="192.30" y1="302.2" x2="192.30" y2="304.5" stroke="#000" stroke-width="0.7"/>
<line x1="246.42" y1="302.2" x2="246.42" y2="304.5" stroke="#000" stroke-width="0.7"/>
<line x1="300.54" y1="302.2" x2="300.54" y2="304.5" stroke="#000" stroke-width="0.7"/>
<rect x="172.9" y="6.7" width="148.2" height="24.6" rx="2.5" fill="#fff" fill-opacity="0.8" stroke="#d0d0d0" stroke-width="0.9"/>
<circle cx="190.8" cy="18.1" r="4.1" fill="#1f77b4" fill-opacity="0.7" stroke="#000" stroke-opacity="0.3" stroke-width="0.6"/>
<g transform="translate(214.40,22.30)" fill="#000"><text x="0.00" y="0.00" font-size="13.25" textLength="93.97" lengthAdjust="spacingAndGlyphs">prototype MoS</text><text x="93.97" y="2.12" font-size="9.28" textLength="5.73" lengthAdjust="spacingAndGlyphs">2</text></g>
<g transform="translate(192.50,339.20)" fill="#000"><text x="-93.00" y="0.00" font-size="13.25" textLength="90.47" lengthAdjust="spacingAndGlyphs">Concentration</text><text x="1.53" y="0.00" font-size="13.25" font-style="italic" textLength="7.57" lengthAdjust="spacingAndGlyphs">x</text><text x="13.17" y="0.00" font-size="13.25" textLength="18.86" lengthAdjust="spacingAndGlyphs">Mo</text><text x="32.02" y="2.12" font-size="9.28" textLength="16.04" lengthAdjust="spacingAndGlyphs">1 −</text><text x="50.91" y="2.12" font-size="9.28" font-style="italic" textLength="5.30" lengthAdjust="spacingAndGlyphs">x</text><text x="56.21" y="0.00" font-size="13.25" textLength="17.68" lengthAdjust="spacingAndGlyphs">Nb</text><text x="73.89" y="2.12" font-size="9.28" font-style="italic" textLength="5.30" lengthAdjust="spacingAndGlyphs">x</text><text x="79.19" y="0.00" font-size="13.25" textLength="8.12" lengthAdjust="spacingAndGlyphs">S</text><text x="87.30" y="2.12" font-size="9.28" textLength="5.70" lengthAdjust="spacingAndGlyphs">2</text></g>
<g transform="translate(9.30,151.90) rotate(-90)" fill="#000"><text x="-96.65" y="0.00" font-size="13.25" textLength="116.03" lengthAdjust="spacingAndGlyphs">Formation energy</text><text x="23.55" y="0.00" font-size="13.25" font-style="italic" textLength="8.28" lengthAdjust="spacingAndGlyphs">E</text><text x="31.84" y="2.12" font-size="9.28" textLength="5.28" lengthAdjust="spacingAndGlyphs">F</text><text x="41.28" y="0.00" font-size="13.25" textLength="55.37" lengthAdjust="spacingAndGlyphs">[eV/site]</text></g>
<text x="121.40" y="376.0" font-size="16.8" fill="#000" textLength="93.95" lengthAdjust="spacingAndGlyphs">(a) (Mo:Nb)S</text><text x="215.35" y="377.9" font-size="11.42" fill="#000">2</text>
<clipPath id="clipb"><rect x="410.6" y="0.5" width="260.79999999999995" height="302.0"/></clipPath>
<g clip-path="url(#clipb)">
<line x1="410.6" y1="211.3" x2="671.4" y2="211.3" stroke="#a0a0a0" stroke-width="1" stroke-dasharray="4,1.3,0.7,1.3"/>
<line x1="410.6" y1="211.3" x2="671.4" y2="211.3" stroke="#7a7a7a" stroke-width="2.0" stroke-dasharray="2.0,3.1"/>
<circle cx="439.6" cy="137.2" r="2.0" fill="#add8e6" fill-opacity="0.9"/>
<circle cx="439.6" cy="142.3" r="2.0" fill="#add8e6" fill-opacity="0.9"/>
<circle cx="439.6" cy="156.2" r="2.0" fill="#add8e6" fill-opacity="0.9"/>
<circle cx="443.2" cy="129.2" r="2.0" fill="#add8e6" fill-opacity="0.9"/>
<circle cx="443.2" cy="136.5" r="2.0" fill="#add8e6" fill-opacity="0.9"/>
<circle cx="443.2" cy="142.3" r="2.0" fill="#add8e6" fill-opacity="0.9"/>
<circle cx="443.2" cy="148.9" r="2.0" fill="#add8e6" fill-opacity="0.9"/>
<circle cx="447.9" cy="122.6" r="2.0" fill="#add8e6" fill-opacity="0.9"/>
<circle cx="447.9" cy="140.9" r="2.0" fill="#add8e6" fill-opacity="0.9"/>
<circle cx="454.1" cy="99.6" r="2.0" fill="#add8e6" fill-opacity="0.9"/>
<circle cx="454.1" cy="132.1" r="2.0" fill="#add8e6" fill-opacity="0.9"/>
<circle cx="462.8" cy="83.5" r="2.0" fill="#add8e6" fill-opacity="0.9"/>
<circle cx="468.6" cy="62.3" r="2.0" fill="#add8e6" fill-opacity="0.9"/>
<circle cx="468.6" cy="70.4" r="2.0" fill="#add8e6" fill-opacity="0.9"/>
<circle cx="468.6" cy="73.3" r="2.0" fill="#add8e6" fill-opacity="0.9"/>
<circle cx="468.6" cy="87.9" r="2.0" fill="#add8e6" fill-opacity="0.9"/>
<circle cx="468.6" cy="103.2" r="2.0" fill="#add8e6" fill-opacity="0.9"/>
<circle cx="468.6" cy="106.4" r="2.0" fill="#add8e6" fill-opacity="0.9"/>
<circle cx="468.6" cy="109.7" r="2.0" fill="#add8e6" fill-opacity="0.9"/>
<circle cx="468.6" cy="112.9" r="2.0" fill="#add8e6" fill-opacity="0.9"/>
<circle cx="468.6" cy="116.1" r="2.0" fill="#add8e6" fill-opacity="0.9"/>
<circle cx="468.6" cy="122.9" r="2.0" fill="#add8e6" fill-opacity="0.9"/>
<circle cx="468.6" cy="144.5" r="2.0" fill="#add8e6" fill-opacity="0.9"/>
<circle cx="468.6" cy="191.3" r="2.0" fill="#add8e6" fill-opacity="0.9"/>
<circle cx="475.8" cy="62.8" r="2.0" fill="#add8e6" fill-opacity="0.9"/>
<circle cx="475.8" cy="117.5" r="2.0" fill="#add8e6" fill-opacity="0.9"/>
<circle cx="475.8" cy="125.8" r="2.0" fill="#add8e6" fill-opacity="0.9"/>
<circle cx="485.1" cy="85.0" r="2.0" fill="#add8e6" fill-opacity="0.9"/>
<circle cx="485.1" cy="111.3" r="2.0" fill="#add8e6" fill-opacity="0.9"/>
<circle cx="497.5" cy="17.0" r="2.0" fill="#add8e6" fill-opacity="0.9"/>
<circle cx="497.5" cy="47.7" r="2.0" fill="#add8e6" fill-opacity="0.9"/>
<circle cx="497.5" cy="116.3" r="2.0" fill="#add8e6" fill-opacity="0.9"/>
<circle cx="497.5" cy="120.5" r="2.0" fill="#add8e6" fill-opacity="0.9"/>
<circle cx="497.5" cy="124.7" r="2.0" fill="#add8e6" fill-opacity="0.9"/>
<circle cx="497.5" cy="128.9" r="2.0" fill="#add8e6" fill-opacity="0.9"/>
<circle cx="497.5" cy="138.4" r="2.0" fill="#add8e6" fill-opacity="0.9"/>
<circle cx="497.5" cy="148.9" r="2.0" fill="#add8e6" fill-opacity="0.9"/>
<circle cx="497.5" cy="152.9" r="2.0" fill="#add8e6" fill-opacity="0.9"/>
<circle cx="497.5" cy="156.9" r="2.0" fill="#add8e6" fill-opacity="0.9"/>
<circle cx="497.5" cy="167.9" r="2.0" fill="#add8e6" fill-opacity="0.9"/>
<circle cx="497.5" cy="170.8" r="2.0" fill="#add8e6" fill-opacity="0.9"/>
<circle cx="497.5" cy="187.6" r="2.0" fill="#add8e6" fill-opacity="0.9"/>
<circle cx="508.4" cy="33.1" r="2.0" fill="#add8e6" fill-opacity="0.9"/>
<circle cx="508.4" cy="43.5" r="2.0" fill="#add8e6" fill-opacity="0.9"/>
<circle cx="508.4" cy="56.3" r="2.0" fill="#add8e6" fill-opacity="0.9"/>
<circle cx="508.4" cy="58.0" r="2.0" fill="#add8e6" fill-opacity="0.9"/>
<circle cx="508.4" cy="95.9" r="2.0" fill="#add8e6" fill-opacity="0.9"/>
<circle cx="508.4" cy="110.0" r="2.0" fill="#add8e6" fill-opacity="0.9"/>
<circle cx="508.4" cy="116.6" r="2.0" fill="#add8e6" fill-opacity="0.9"/>
<circle cx="508.4" cy="126.3" r="2.0" fill="#add8e6" fill-opacity="0.9"/>
<circle cx="508.4" cy="157.7" r="2.0" fill="#add8e6" fill-opacity="0.9"/>
<circle cx="514.9" cy="67.2" r="2.0" fill="#add8e6" fill-opacity="0.9"/>
<circle cx="522.4" cy="111.7" r="2.0" fill="#add8e6" fill-opacity="0.9"/>
<circle cx="526.5" cy="14.5" r="2.0" fill="#add8e6" fill-opacity="0.9"/>
<circle cx="526.5" cy="23.4" r="2.0" fill="#add8e6" fill-opacity="0.9"/>
<circle cx="526.5" cy="40.0" r="2.0" fill="#add8e6" fill-opacity="0.9"/>
<circle cx="526.5" cy="52.8" r="2.0" fill="#add8e6" fill-opacity="0.9"/>
<circle cx="526.5" cy="58.0" r="2.0" fill="#add8e6" fill-opacity="0.9"/>
<circle cx="526.5" cy="60.9" r="2.0" fill="#add8e6" fill-opacity="0.9"/>
<circle cx="526.5" cy="63.8" r="2.0" fill="#add8e6" fill-opacity="0.9"/>
<circle cx="526.5" cy="66.8" r="2.0" fill="#add8e6" fill-opacity="0.9"/>
<circle cx="526.5" cy="69.7" r="2.0" fill="#add8e6" fill-opacity="0.9"/>
<circle cx="526.5" cy="72.6" r="2.0" fill="#add8e6" fill-opacity="0.9"/>
<circle cx="526.5" cy="75.5" r="2.0" fill="#add8e6" fill-opacity="0.9"/>
<circle cx="526.5" cy="78.4" r="2.0" fill="#add8e6" fill-opacity="0.9"/>
<circle cx="526.5" cy="81.3" r="2.0" fill="#add8e6" fill-opacity="0.9"/>
<circle cx="526.5" cy="84.2" r="2.0" fill="#add8e6" fill-opacity="0.9"/>
<circle cx="526.5" cy="87.2" r="2.0" fill="#add8e6" fill-opacity="0.9"/>
<circle cx="526.5" cy="90.1" r="2.0" fill="#add8e6" fill-opacity="0.9"/>
<circle cx="526.5" cy="93.0" r="2.0" fill="#add8e6" fill-opacity="0.9"/>
<circle cx="526.5" cy="109.8" r="2.0" fill="#add8e6" fill-opacity="0.9"/>
<circle cx="526.5" cy="114.9" r="2.0" fill="#add8e6" fill-opacity="0.9"/>
<circle cx="526.5" cy="117.9" r="2.0" fill="#add8e6" fill-opacity="0.9"/>
<circle cx="526.5" cy="120.9" r="2.0" fill="#add8e6" fill-opacity="0.9"/>
<circle cx="526.5" cy="123.9" r="2.0" fill="#add8e6" fill-opacity="0.9"/>
<circle cx="526.5" cy="126.9" r="2.0" fill="#add8e6" fill-opacity="0.9"/>
<circle cx="526.5" cy="129.9" r="2.0" fill="#add8e6" fill-opacity="0.9"/>
<circle cx="526.5" cy="132.9" r="2.0" fill="#add8e6" fill-opacity="0.9"/>
<circle cx="526.5" cy="136.0" r="2.0" fill="#add8e6" fill-opacity="0.9"/>
<circle cx="526.5" cy="139.0" r="2.0" fill="#add8e6" fill-opacity="0.9"/>
<circle cx="526.5" cy="142.0" r="2.0" fill="#add8e6" fill-opacity="0.9"/>
<circle cx="526.5" cy="145.0" r="2.0" fill="#add8e6" fill-opacity="0.9"/>
<circle cx="526.5" cy="148.0" r="2.0" fill="#add8e6" fill-opacity="0.9"/>
<circle cx="526.5" cy="151.0" r="2.0" fill="#add8e6" fill-opacity="0.9"/>
<circle cx="526.5" cy="163.5" r="2.0" fill="#add8e6" fill-opacity="0.9"/>
<circle cx="526.5" cy="202.8" r="2.0" fill="#add8e6" fill-opacity="0.9"/>
<circle cx="526.5" cy="217.0" r="2.0" fill="#add8e6" fill-opacity="0.9"/>
<circle cx="541.0" cy="22.2" r="2.0" fill="#add8e6" fill-opacity="0.9"/>
<circle cx="541.0" cy="36.1" r="2.0" fill="#add8e6" fill-opacity="0.9"/>
<circle cx="541.0" cy="73.3" r="2.0" fill="#add8e6" fill-opacity="0.9"/>
<circle cx="541.0" cy="82.8" r="2.0" fill="#add8e6" fill-opacity="0.9"/>
<circle cx="541.0" cy="87.9" r="2.0" fill="#add8e6" fill-opacity="0.9"/>
<circle cx="541.0" cy="90.1" r="2.0" fill="#add8e6" fill-opacity="0.9"/>
<circle cx="541.0" cy="107.2" r="2.0" fill="#add8e6" fill-opacity="0.9"/>
<circle cx="541.0" cy="116.2" r="2.0" fill="#add8e6" fill-opacity="0.9"/>
<circle cx="541.0" cy="119.7" r="2.0" fill="#add8e6" fill-opacity="0.9"/>
<circle cx="541.0" cy="167.9" r="2.0" fill="#add8e6" fill-opacity="0.9"/>
<circle cx="555.5" cy="41.9" r="2.0" fill="#add8e6" fill-opacity="0.9"/>
<circle cx="555.5" cy="54.7" r="2.0" fill="#add8e6" fill-opacity="0.9"/>
<circle cx="555.5" cy="71.8" r="2.0" fill="#add8e6" fill-opacity="0.9"/>
<circle cx="555.5" cy="86.4" r="2.0" fill="#add8e6" fill-opacity="0.9"/>
<circle cx="555.5" cy="89.5" r="2.0" fill="#add8e6" fill-opacity="0.9"/>
<circle cx="555.5" cy="92.6" r="2.0" fill="#add8e6" fill-opacity="0.9"/>
<circle cx="555.5" cy="95.7" r="2.0" fill="#add8e6" fill-opacity="0.9"/>
<circle cx="555.5" cy="98.8" r="2.0" fill="#add8e6" fill-opacity="0.9"/>
<circle cx="555.5" cy="108.0" r="2.0" fill="#add8e6" fill-opacity="0.9"/>
<circle cx="555.5" cy="111.3" r="2.0" fill="#add8e6" fill-opacity="0.9"/>
<circle cx="555.5" cy="114.5" r="2.0" fill="#add8e6" fill-opacity="0.9"/>
<circle cx="555.5" cy="117.8" r="2.0" fill="#add8e6" fill-opacity="0.9"/>
<circle cx="555.5" cy="121.0" r="2.0" fill="#add8e6" fill-opacity="0.9"/>
<circle cx="555.5" cy="124.3" r="2.0" fill="#add8e6" fill-opacity="0.9"/>
<circle cx="555.5" cy="127.5" r="2.0" fill="#add8e6" fill-opacity="0.9"/>
<circle cx="555.5" cy="130.8" r="2.0" fill="#add8e6" fill-opacity="0.9"/>
<circle cx="555.5" cy="134.0" r="2.0" fill="#add8e6" fill-opacity="0.9"/>
<circle cx="555.5" cy="137.3" r="2.0" fill="#add8e6" fill-opacity="0.9"/>
<circle cx="555.5" cy="140.5" r="2.0" fill="#add8e6" fill-opacity="0.9"/>
<circle cx="555.5" cy="143.8" r="2.0" fill="#add8e6" fill-opacity="0.9"/>
<circle cx="555.5" cy="155.5" r="2.0" fill="#add8e6" fill-opacity="0.9"/>
<circle cx="555.5" cy="158.7" r="2.0" fill="#add8e6" fill-opacity="0.9"/>
<circle cx="555.5" cy="162.0" r="2.0" fill="#add8e6" fill-opacity="0.9"/>
<circle cx="555.5" cy="165.2" r="2.0" fill="#add8e6" fill-opacity="0.9"/>
<circle cx="555.5" cy="168.4" r="2.0" fill="#add8e6" fill-opacity="0.9"/>
<circle cx="555.5" cy="171.7" r="2.0" fill="#add8e6" fill-opacity="0.9"/>
<circle cx="555.5" cy="174.9" r="2.0" fill="#add8e6" fill-opacity="0.9"/>
<circle cx="555.5" cy="178.1" r="2.0" fill="#add8e6" fill-opacity="0.9"/>
<circle cx="555.5" cy="181.4" r="2.0" fill="#add8e6" fill-opacity="0.9"/>
<circle cx="555.5" cy="184.6" r="2.0" fill="#add8e6" fill-opacity="0.9"/>
<circle cx="555.5" cy="187.8" r="2.0" fill="#add8e6" fill-opacity="0.9"/>
<circle cx="555.5" cy="191.1" r="2.0" fill="#add8e6" fill-opacity="0.9"/>
<circle cx="555.5" cy="194.3" r="2.0" fill="#add8e6" fill-opacity="0.9"/>
<circle cx="555.5" cy="197.5" r="2.0" fill="#add8e6" fill-opacity="0.9"/>
<circle cx="555.5" cy="200.8" r="2.0" fill="#add8e6" fill-opacity="0.9"/>
<circle cx="555.5" cy="204.0" r="2.0" fill="#add8e6" fill-opacity="0.9"/>
<circle cx="555.5" cy="217.0" r="2.0" fill="#add8e6" fill-opacity="0.9"/>
<circle cx="559.6" cy="88.6" r="2.0" fill="#add8e6" fill-opacity="0.9"/>
<circle cx="567.1" cy="186.1" r="2.0" fill="#add8e6" fill-opacity="0.9"/>
<circle cx="573.6" cy="41.6" r="2.0" fill="#add8e6" fill-opacity="0.9"/>
<circle cx="573.6" cy="48.5" r="2.0" fill="#add8e6" fill-opacity="0.9"/>
<circle cx="573.6" cy="91.5" r="2.0" fill="#add8e6" fill-opacity="0.9"/>
<circle cx="573.6" cy="95.9" r="2.0" fill="#add8e6" fill-opacity="0.9"/>
<circle cx="573.6" cy="100.2" r="2.0" fill="#add8e6" fill-opacity="0.9"/>
<circle cx="573.6" cy="112.8" r="2.0" fill="#add8e6" fill-opacity="0.9"/>
<circle cx="573.6" cy="119.7" r="2.0" fill="#add8e6" fill-opacity="0.9"/>
<circle cx="573.6" cy="127.7" r="2.0" fill="#add8e6" fill-opacity="0.9"/>
<circle cx="573.6" cy="139.4" r="2.0" fill="#add8e6" fill-opacity="0.9"/>
<circle cx="573.6" cy="143.8" r="2.0" fill="#add8e6" fill-opacity="0.9"/>
<circle cx="573.6" cy="162.0" r="2.0" fill="#add8e6" fill-opacity="0.9"/>
<circle cx="573.6" cy="177.0" r="2.0" fill="#add8e6" fill-opacity="0.9"/>
<circle cx="573.6" cy="180.4" r="2.0" fill="#add8e6" fill-opacity="0.9"/>
<circle cx="573.6" cy="183.8" r="2.0" fill="#add8e6" fill-opacity="0.9"/>
<circle cx="573.6" cy="187.1" r="2.0" fill="#add8e6" fill-opacity="0.9"/>
<circle cx="573.6" cy="190.5" r="2.0" fill="#add8e6" fill-opacity="0.9"/>
<circle cx="573.6" cy="226.5" r="2.0" fill="#add8e6" fill-opacity="0.9"/>
<circle cx="573.6" cy="247.7" r="2.0" fill="#add8e6" fill-opacity="0.9"/>
<circle cx="584.5" cy="110.0" r="2.0" fill="#add8e6" fill-opacity="0.9"/>
<circle cx="584.5" cy="140.0" r="2.0" fill="#add8e6" fill-opacity="0.9"/>
<circle cx="584.5" cy="155.4" r="2.0" fill="#add8e6" fill-opacity="0.9"/>
<circle cx="584.5" cy="170.0" r="2.0" fill="#add8e6" fill-opacity="0.9"/>
<circle cx="584.5" cy="174.5" r="2.0" fill="#add8e6" fill-opacity="0.9"/>
<circle cx="584.5" cy="189.0" r="2.0" fill="#add8e6" fill-opacity="0.9"/>
<circle cx="584.5" cy="192.5" r="2.0" fill="#add8e6" fill-opacity="0.9"/>
<circle cx="584.5" cy="196.0" r="2.0" fill="#add8e6" fill-opacity="0.9"/>
<circle cx="584.5" cy="199.4" r="2.0" fill="#add8e6" fill-opacity="0.9"/>
<circle cx="584.5" cy="202.9" r="2.0" fill="#add8e6" fill-opacity="0.9"/>
<circle cx="584.5" cy="206.4" r="2.0" fill="#add8e6" fill-opacity="0.9"/>
<circle cx="584.5" cy="218.5" r="2.0" fill="#add8e6" fill-opacity="0.9"/>
<circle cx="596.9" cy="165.6" r="2.0" fill="#add8e6" fill-opacity="0.9"/>
<circle cx="596.9" cy="178.8" r="2.0" fill="#add8e6" fill-opacity="0.9"/>
<circle cx="596.9" cy="196.0" r="2.0" fill="#add8e6" fill-opacity="0.9"/>
<circle cx="606.2" cy="129.7" r="2.0" fill="#add8e6" fill-opacity="0.9"/>
<circle cx="606.2" cy="145.0" r="2.0" fill="#add8e6" fill-opacity="0.9"/>
<circle cx="606.2" cy="187.4" r="2.0" fill="#add8e6" fill-opacity="0.9"/>
<circle cx="606.2" cy="190.2" r="2.0" fill="#add8e6" fill-opacity="0.9"/>
<circle cx="606.2" cy="265.2" r="2.0" fill="#add8e6" fill-opacity="0.9"/>
<circle cx="613.4" cy="141.1" r="2.0" fill="#add8e6" fill-opacity="0.9"/>
<circle cx="613.4" cy="156.3" r="2.0" fill="#add8e6" fill-opacity="0.9"/>
<circle cx="613.4" cy="170.6" r="2.0" fill="#add8e6" fill-opacity="0.9"/>
<circle cx="613.4" cy="185.2" r="2.0" fill="#add8e6" fill-opacity="0.9"/>
<circle cx="613.4" cy="190.3" r="2.0" fill="#add8e6" fill-opacity="0.9"/>
<circle cx="613.4" cy="214.5" r="2.0" fill="#add8e6" fill-opacity="0.9"/>
<circle cx="613.4" cy="226.2" r="2.0" fill="#add8e6" fill-opacity="0.9"/>
<circle cx="613.4" cy="238.2" r="2.0" fill="#add8e6" fill-opacity="0.9"/>
<circle cx="613.4" cy="241.8" r="2.0" fill="#add8e6" fill-opacity="0.9"/>
<circle cx="627.9" cy="221.8" r="2.0" fill="#add8e6" fill-opacity="0.9"/>
<circle cx="634.1" cy="232.6" r="2.0" fill="#add8e6" fill-opacity="0.9"/>
<circle cx="638.8" cy="195.1" r="2.0" fill="#add8e6" fill-opacity="0.9"/>
<circle cx="642.4" cy="213.4" r="2.0" fill="#add8e6" fill-opacity="0.9"/>
<path d="M410.60,211.30 L584.47,286.40 L642.42,257.50 L671.40,211.20" fill="none" stroke="#5a9bcf" stroke-width="2.2" stroke-linejoin="round"/>
<circle cx="443.2" cy="138.7" r="3.9" fill="#1f77b4" fill-opacity="0.93" stroke="#000" stroke-opacity="0.8" stroke-width="0.8"/>
<circle cx="447.9" cy="103.4" r="3.9" fill="#1f77b4" fill-opacity="0.93" stroke="#000" stroke-opacity="0.8" stroke-width="0.8"/>
<circle cx="447.9" cy="108.6" r="3.9" fill="#1f77b4" fill-opacity="0.93" stroke="#000" stroke-opacity="0.8" stroke-width="0.8"/>
<circle cx="447.9" cy="130.4" r="3.9" fill="#1f77b4" fill-opacity="0.93" stroke="#000" stroke-opacity="0.8" stroke-width="0.8"/>
<circle cx="454.1" cy="88.6" r="3.9" fill="#1f77b4" fill-opacity="0.93" stroke="#000" stroke-opacity="0.8" stroke-width="0.8"/>
<circle cx="454.1" cy="93.0" r="3.9" fill="#1f77b4" fill-opacity="0.93" stroke="#000" stroke-opacity="0.8" stroke-width="0.8"/>
<circle cx="454.1" cy="118.5" r="3.9" fill="#1f77b4" fill-opacity="0.93" stroke="#000" stroke-opacity="0.8" stroke-width="0.8"/>
<circle cx="462.8" cy="89.3" r="3.9" fill="#1f77b4" fill-opacity="0.93" stroke="#000" stroke-opacity="0.8" stroke-width="0.8"/>
<circle cx="462.8" cy="108.8" r="3.9" fill="#1f77b4" fill-opacity="0.93" stroke="#000" stroke-opacity="0.8" stroke-width="0.8"/>
<circle cx="475.8" cy="49.2" r="3.9" fill="#1f77b4" fill-opacity="0.93" stroke="#000" stroke-opacity="0.8" stroke-width="0.8"/>
<circle cx="475.8" cy="76.2" r="3.9" fill="#1f77b4" fill-opacity="0.93" stroke="#000" stroke-opacity="0.8" stroke-width="0.8"/>
<circle cx="475.8" cy="97.4" r="3.9" fill="#1f77b4" fill-opacity="0.93" stroke="#000" stroke-opacity="0.8" stroke-width="0.8"/>
<circle cx="475.8" cy="101.2" r="3.9" fill="#1f77b4" fill-opacity="0.93" stroke="#000" stroke-opacity="0.8" stroke-width="0.8"/>
<circle cx="475.8" cy="190.5" r="3.9" fill="#1f77b4" fill-opacity="0.93" stroke="#000" stroke-opacity="0.8" stroke-width="0.8"/>
<circle cx="485.1" cy="53.3" r="3.9" fill="#1f77b4" fill-opacity="0.93" stroke="#000" stroke-opacity="0.8" stroke-width="0.8"/>
<circle cx="485.1" cy="74.7" r="3.9" fill="#1f77b4" fill-opacity="0.93" stroke="#000" stroke-opacity="0.8" stroke-width="0.8"/>
<circle cx="485.1" cy="91.5" r="3.9" fill="#1f77b4" fill-opacity="0.93" stroke="#000" stroke-opacity="0.8" stroke-width="0.8"/>
<circle cx="485.1" cy="94.5" r="3.9" fill="#1f77b4" fill-opacity="0.93" stroke="#000" stroke-opacity="0.8" stroke-width="0.8"/>
<circle cx="485.1" cy="97.4" r="3.9" fill="#1f77b4" fill-opacity="0.93" stroke="#000" stroke-opacity="0.8" stroke-width="0.8"/>
<circle cx="485.1" cy="130.7" r="3.9" fill="#1f77b4" fill-opacity="0.93" stroke="#000" stroke-opacity="0.8" stroke-width="0.8"/>
<circle cx="485.1" cy="191.0" r="3.9" fill="#1f77b4" fill-opacity="0.93" stroke="#000" stroke-opacity="0.8" stroke-width="0.8"/>
<circle cx="497.5" cy="38.7" r="3.9" fill="#1f77b4" fill-opacity="0.93" stroke="#000" stroke-opacity="0.8" stroke-width="0.8"/>
<circle cx="497.5" cy="58.7" r="3.9" fill="#1f77b4" fill-opacity="0.93" stroke="#000" stroke-opacity="0.8" stroke-width="0.8"/>
<circle cx="497.5" cy="68.5" r="3.9" fill="#1f77b4" fill-opacity="0.93" stroke="#000" stroke-opacity="0.8" stroke-width="0.8"/>
<circle cx="497.5" cy="79.1" r="3.9" fill="#1f77b4" fill-opacity="0.75" stroke="#000" stroke-opacity="0.45" stroke-width="0.8"/>
<circle cx="497.5" cy="82.8" r="3.9" fill="#1f77b4" fill-opacity="0.93" stroke="#000" stroke-opacity="0.8" stroke-width="0.8"/>
<circle cx="497.5" cy="91.5" r="3.9" fill="#1f77b4" fill-opacity="0.93" stroke="#000" stroke-opacity="0.8" stroke-width="0.8"/>
<circle cx="497.5" cy="94.5" r="3.9" fill="#1f77b4" fill-opacity="0.93" stroke="#000" stroke-opacity="0.8" stroke-width="0.8"/>
<circle cx="497.5" cy="193.0" r="3.9" fill="#1f77b4" fill-opacity="0.93" stroke="#000" stroke-opacity="0.8" stroke-width="0.8"/>
<circle cx="508.4" cy="71.3" r="3.9" fill="#1f77b4" fill-opacity="0.75" stroke="#000" stroke-opacity="0.45" stroke-width="0.8"/>
<circle cx="508.4" cy="81.6" r="3.9" fill="#1f77b4" fill-opacity="0.75" stroke="#000" stroke-opacity="0.45" stroke-width="0.8"/>
<circle cx="508.4" cy="146.7" r="3.9" fill="#1f77b4" fill-opacity="0.93" stroke="#000" stroke-opacity="0.8" stroke-width="0.8"/>
<circle cx="508.4" cy="150.2" r="3.9" fill="#1f77b4" fill-opacity="0.93" stroke="#000" stroke-opacity="0.8" stroke-width="0.8"/>
<circle cx="508.4" cy="164.2" r="3.9" fill="#1f77b4" fill-opacity="0.93" stroke="#000" stroke-opacity="0.8" stroke-width="0.8"/>
<circle cx="514.9" cy="58.7" r="3.9" fill="#1f77b4" fill-opacity="0.93" stroke="#000" stroke-opacity="0.8" stroke-width="0.8"/>
<circle cx="514.9" cy="74.3" r="3.9" fill="#1f77b4" fill-opacity="0.93" stroke="#000" stroke-opacity="0.8" stroke-width="0.8"/>
<circle cx="514.9" cy="114.3" r="3.9" fill="#1f77b4" fill-opacity="0.93" stroke="#000" stroke-opacity="0.8" stroke-width="0.8"/>
<circle cx="514.9" cy="199.2" r="3.9" fill="#1f77b4" fill-opacity="0.93" stroke="#000" stroke-opacity="0.8" stroke-width="0.8"/>
<circle cx="522.4" cy="49.9" r="3.9" fill="#1f77b4" fill-opacity="0.93" stroke="#000" stroke-opacity="0.8" stroke-width="0.8"/>
<circle cx="522.4" cy="61.6" r="3.9" fill="#1f77b4" fill-opacity="0.93" stroke="#000" stroke-opacity="0.8" stroke-width="0.8"/>
<circle cx="522.4" cy="67.4" r="3.9" fill="#1f77b4" fill-opacity="0.93" stroke="#000" stroke-opacity="0.8" stroke-width="0.8"/>
<circle cx="522.4" cy="86.4" r="3.9" fill="#1f77b4" fill-opacity="0.75" stroke="#000" stroke-opacity="0.45" stroke-width="0.8"/>
<circle cx="522.4" cy="104.4" r="3.9" fill="#1f77b4" fill-opacity="0.93" stroke="#000" stroke-opacity="0.8" stroke-width="0.8"/>
<circle cx="522.4" cy="129.2" r="3.9" fill="#1f77b4" fill-opacity="0.93" stroke="#000" stroke-opacity="0.8" stroke-width="0.8"/>
<circle cx="522.4" cy="146.0" r="3.9" fill="#1f77b4" fill-opacity="0.93" stroke="#000" stroke-opacity="0.8" stroke-width="0.8"/>
<circle cx="522.4" cy="149.6" r="3.9" fill="#1f77b4" fill-opacity="0.93" stroke="#000" stroke-opacity="0.8" stroke-width="0.8"/>
<circle cx="522.4" cy="153.3" r="3.9" fill="#1f77b4" fill-opacity="0.93" stroke="#000" stroke-opacity="0.8" stroke-width="0.8"/>
<circle cx="522.4" cy="167.2" r="3.9" fill="#1f77b4" fill-opacity="0.93" stroke="#000" stroke-opacity="0.8" stroke-width="0.8"/>
<circle cx="522.4" cy="168.6" r="3.9" fill="#1f77b4" fill-opacity="0.93" stroke="#000" stroke-opacity="0.8" stroke-width="0.8"/>
<circle cx="541.0" cy="47.4" r="3.9" fill="#1f77b4" fill-opacity="0.93" stroke="#000" stroke-opacity="0.8" stroke-width="0.8"/>
<circle cx="541.0" cy="59.7" r="3.9" fill="#1f77b4" fill-opacity="0.93" stroke="#000" stroke-opacity="0.8" stroke-width="0.8"/>
<circle cx="541.0" cy="66.7" r="3.9" fill="#1f77b4" fill-opacity="0.93" stroke="#000" stroke-opacity="0.8" stroke-width="0.8"/>
<circle cx="541.0" cy="69.6" r="3.9" fill="#1f77b4" fill-opacity="0.93" stroke="#000" stroke-opacity="0.8" stroke-width="0.8"/>
<circle cx="541.0" cy="127.0" r="3.9" fill="#1f77b4" fill-opacity="0.93" stroke="#000" stroke-opacity="0.8" stroke-width="0.8"/>
<circle cx="541.0" cy="130.7" r="3.9" fill="#1f77b4" fill-opacity="0.93" stroke="#000" stroke-opacity="0.8" stroke-width="0.8"/>
<circle cx="541.0" cy="134.7" r="3.9" fill="#1f77b4" fill-opacity="0.93" stroke="#000" stroke-opacity="0.8" stroke-width="0.8"/>
<circle cx="541.0" cy="144.5" r="3.9" fill="#1f77b4" fill-opacity="0.93" stroke="#000" stroke-opacity="0.8" stroke-width="0.8"/>
<circle cx="541.0" cy="147.4" r="3.9" fill="#1f77b4" fill-opacity="0.93" stroke="#000" stroke-opacity="0.8" stroke-width="0.8"/>
<circle cx="541.0" cy="150.4" r="3.9" fill="#1f77b4" fill-opacity="0.93" stroke="#000" stroke-opacity="0.8" stroke-width="0.8"/>
<circle cx="541.0" cy="153.3" r="3.9" fill="#1f77b4" fill-opacity="0.93" stroke="#000" stroke-opacity="0.8" stroke-width="0.8"/>
<circle cx="541.0" cy="180.6" r="3.9" fill="#1f77b4" fill-opacity="0.93" stroke="#000" stroke-opacity="0.8" stroke-width="0.8"/>
<circle cx="541.0" cy="211.9" r="3.9" fill="#1f77b4" fill-opacity="0.93" stroke="#000" stroke-opacity="0.8" stroke-width="0.8"/>
<circle cx="541.0" cy="226.9" r="3.9" fill="#1f77b4" fill-opacity="0.93" stroke="#000" stroke-opacity="0.8" stroke-width="0.8"/>
<circle cx="555.5" cy="222.4" r="3.9" fill="#1f77b4" fill-opacity="0.93" stroke="#000" stroke-opacity="0.8" stroke-width="0.8"/>
<circle cx="559.6" cy="62.3" r="3.9" fill="#1f77b4" fill-opacity="0.93" stroke="#000" stroke-opacity="0.8" stroke-width="0.8"/>
<circle cx="559.6" cy="76.9" r="3.9" fill="#1f77b4" fill-opacity="0.93" stroke="#000" stroke-opacity="0.8" stroke-width="0.8"/>
<circle cx="559.6" cy="114.6" r="3.9" fill="#1f77b4" fill-opacity="0.93" stroke="#000" stroke-opacity="0.8" stroke-width="0.8"/>
<circle cx="559.6" cy="138.0" r="3.9" fill="#1f77b4" fill-opacity="0.93" stroke="#000" stroke-opacity="0.8" stroke-width="0.8"/>
<circle cx="559.6" cy="140.1" r="3.9" fill="#1f77b4" fill-opacity="0.93" stroke="#000" stroke-opacity="0.8" stroke-width="0.8"/>
<circle cx="559.6" cy="143.8" r="3.9" fill="#1f77b4" fill-opacity="0.93" stroke="#000" stroke-opacity="0.8" stroke-width="0.8"/>
<circle cx="559.6" cy="146.7" r="3.9" fill="#1f77b4" fill-opacity="0.93" stroke="#000" stroke-opacity="0.8" stroke-width="0.8"/>
<circle cx="559.6" cy="150.4" r="3.9" fill="#1f77b4" fill-opacity="0.93" stroke="#000" stroke-opacity="0.8" stroke-width="0.8"/>
<circle cx="559.6" cy="152.6" r="3.9" fill="#1f77b4" fill-opacity="0.93" stroke="#000" stroke-opacity="0.8" stroke-width="0.8"/>
<circle cx="559.6" cy="161.3" r="3.9" fill="#1f77b4" fill-opacity="0.93" stroke="#000" stroke-opacity="0.8" stroke-width="0.8"/>
<circle cx="559.6" cy="168.6" r="3.9" fill="#1f77b4" fill-opacity="0.93" stroke="#000" stroke-opacity="0.8" stroke-width="0.8"/>
<circle cx="559.6" cy="241.5" r="3.9" fill="#1f77b4" fill-opacity="0.93" stroke="#000" stroke-opacity="0.8" stroke-width="0.8"/>
<circle cx="567.1" cy="62.0" r="3.9" fill="#1f77b4" fill-opacity="0.93" stroke="#000" stroke-opacity="0.8" stroke-width="0.8"/>
<circle cx="567.1" cy="167.2" r="3.9" fill="#1f77b4" fill-opacity="0.93" stroke="#000" stroke-opacity="0.8" stroke-width="0.8"/>
<circle cx="567.1" cy="178.8" r="3.9" fill="#1f77b4" fill-opacity="0.93" stroke="#000" stroke-opacity="0.8" stroke-width="0.8"/>
<circle cx="567.1" cy="208.7" r="3.9" fill="#1f77b4" fill-opacity="0.93" stroke="#000" stroke-opacity="0.8" stroke-width="0.8"/>
<circle cx="573.6" cy="134.3" r="3.9" fill="#1f77b4" fill-opacity="0.93" stroke="#000" stroke-opacity="0.8" stroke-width="0.8"/>
<circle cx="573.6" cy="148.9" r="3.9" fill="#1f77b4" fill-opacity="0.93" stroke="#000" stroke-opacity="0.8" stroke-width="0.8"/>
<circle cx="573.6" cy="154.7" r="3.9" fill="#1f77b4" fill-opacity="0.93" stroke="#000" stroke-opacity="0.8" stroke-width="0.8"/>
<circle cx="573.6" cy="170.1" r="3.9" fill="#1f77b4" fill-opacity="0.93" stroke="#000" stroke-opacity="0.8" stroke-width="0.8"/>
<circle cx="573.6" cy="206.8" r="3.9" fill="#1f77b4" fill-opacity="0.93" stroke="#000" stroke-opacity="0.8" stroke-width="0.8"/>
<circle cx="573.6" cy="214.8" r="3.9" fill="#1f77b4" fill-opacity="0.93" stroke="#000" stroke-opacity="0.8" stroke-width="0.8"/>
<circle cx="573.6" cy="220.7" r="3.9" fill="#1f77b4" fill-opacity="0.93" stroke="#000" stroke-opacity="0.8" stroke-width="0.8"/>
<circle cx="584.5" cy="40.4" r="3.9" fill="#1f77b4" fill-opacity="0.93" stroke="#000" stroke-opacity="0.8" stroke-width="0.8"/>
<circle cx="584.5" cy="120.5" r="3.9" fill="#1f77b4" fill-opacity="0.93" stroke="#000" stroke-opacity="0.8" stroke-width="0.8"/>
<circle cx="584.5" cy="133.6" r="3.9" fill="#1f77b4" fill-opacity="0.93" stroke="#000" stroke-opacity="0.8" stroke-width="0.8"/>
<circle cx="584.5" cy="147.5" r="3.9" fill="#1f77b4" fill-opacity="0.93" stroke="#000" stroke-opacity="0.8" stroke-width="0.8"/>
<circle cx="584.5" cy="161.2" r="3.9" fill="#1f77b4" fill-opacity="0.93" stroke="#000" stroke-opacity="0.8" stroke-width="0.8"/>
<circle cx="584.5" cy="166.3" r="3.9" fill="#1f77b4" fill-opacity="0.93" stroke="#000" stroke-opacity="0.8" stroke-width="0.8"/>
<circle cx="584.5" cy="214.1" r="3.9" fill="#1f77b4" fill-opacity="0.93" stroke="#000" stroke-opacity="0.8" stroke-width="0.8"/>
<circle cx="584.5" cy="242.8" r="3.9" fill="#1f77b4" fill-opacity="0.93" stroke="#000" stroke-opacity="0.8" stroke-width="0.8"/>
<circle cx="584.5" cy="286.4" r="3.9" fill="#1f77b4" fill-opacity="0.93" stroke="#000" stroke-opacity="0.8" stroke-width="0.8"/>
<circle cx="596.9" cy="112.6" r="3.9" fill="#1f77b4" fill-opacity="0.93" stroke="#000" stroke-opacity="0.8" stroke-width="0.8"/>
<circle cx="596.9" cy="155.3" r="3.9" fill="#1f77b4" fill-opacity="0.93" stroke="#000" stroke-opacity="0.8" stroke-width="0.8"/>
<circle cx="596.9" cy="171.0" r="3.9" fill="#1f77b4" fill-opacity="0.93" stroke="#000" stroke-opacity="0.8" stroke-width="0.8"/>
<circle cx="596.9" cy="174.3" r="3.9" fill="#1f77b4" fill-opacity="0.93" stroke="#000" stroke-opacity="0.8" stroke-width="0.8"/>
<circle cx="596.9" cy="187.5" r="3.9" fill="#1f77b4" fill-opacity="0.93" stroke="#000" stroke-opacity="0.8" stroke-width="0.8"/>
<circle cx="596.9" cy="189.7" r="3.9" fill="#1f77b4" fill-opacity="0.93" stroke="#000" stroke-opacity="0.8" stroke-width="0.8"/>
<circle cx="596.9" cy="207.2" r="3.9" fill="#1f77b4" fill-opacity="0.93" stroke="#000" stroke-opacity="0.8" stroke-width="0.8"/>
<circle cx="596.9" cy="212.6" r="3.9" fill="#1f77b4" fill-opacity="0.93" stroke="#000" stroke-opacity="0.8" stroke-width="0.8"/>
<circle cx="596.9" cy="250.0" r="3.9" fill="#1f77b4" fill-opacity="0.93" stroke="#000" stroke-opacity="0.8" stroke-width="0.8"/>
<circle cx="596.9" cy="251.3" r="3.9" fill="#1f77b4" fill-opacity="0.93" stroke="#000" stroke-opacity="0.8" stroke-width="0.8"/>
<circle cx="606.2" cy="111.3" r="3.9" fill="#1f77b4" fill-opacity="0.93" stroke="#000" stroke-opacity="0.8" stroke-width="0.8"/>
<circle cx="606.2" cy="158.2" r="3.9" fill="#1f77b4" fill-opacity="0.93" stroke="#000" stroke-opacity="0.8" stroke-width="0.8"/>
<circle cx="606.2" cy="178.6" r="3.9" fill="#1f77b4" fill-opacity="0.93" stroke="#000" stroke-opacity="0.8" stroke-width="0.8"/>
<circle cx="606.2" cy="180.1" r="3.9" fill="#1f77b4" fill-opacity="0.93" stroke="#000" stroke-opacity="0.8" stroke-width="0.8"/>
<circle cx="606.2" cy="225.0" r="3.9" fill="#1f77b4" fill-opacity="0.93" stroke="#000" stroke-opacity="0.8" stroke-width="0.8"/>
<circle cx="606.2" cy="233.5" r="3.9" fill="#1f77b4" fill-opacity="0.75" stroke="#000" stroke-opacity="0.45" stroke-width="0.8"/>
<circle cx="613.4" cy="263.7" r="3.9" fill="#1f77b4" fill-opacity="0.93" stroke="#000" stroke-opacity="0.8" stroke-width="0.8"/>
<circle cx="613.4" cy="266.6" r="3.9" fill="#1f77b4" fill-opacity="0.93" stroke="#000" stroke-opacity="0.8" stroke-width="0.8"/>
<circle cx="619.2" cy="204.6" r="3.9" fill="#1f77b4" fill-opacity="0.93" stroke="#000" stroke-opacity="0.8" stroke-width="0.8"/>
<circle cx="619.2" cy="207.4" r="3.9" fill="#1f77b4" fill-opacity="0.93" stroke="#000" stroke-opacity="0.8" stroke-width="0.8"/>
<circle cx="619.2" cy="209.7" r="3.9" fill="#1f77b4" fill-opacity="0.75" stroke="#000" stroke-opacity="0.45" stroke-width="0.8"/>
<circle cx="619.2" cy="211.9" r="3.9" fill="#1f77b4" fill-opacity="0.75" stroke="#000" stroke-opacity="0.45" stroke-width="0.8"/>
<circle cx="627.9" cy="207.5" r="3.9" fill="#1f77b4" fill-opacity="0.93" stroke="#000" stroke-opacity="0.8" stroke-width="0.8"/>
<circle cx="627.9" cy="228.0" r="3.9" fill="#1f77b4" fill-opacity="0.75" stroke="#000" stroke-opacity="0.45" stroke-width="0.8"/>
<circle cx="627.9" cy="232.6" r="3.9" fill="#1f77b4" fill-opacity="0.93" stroke="#000" stroke-opacity="0.8" stroke-width="0.8"/>
<circle cx="627.9" cy="253.1" r="3.9" fill="#1f77b4" fill-opacity="0.93" stroke="#000" stroke-opacity="0.8" stroke-width="0.8"/>
<circle cx="634.1" cy="174.2" r="3.9" fill="#1f77b4" fill-opacity="0.75" stroke="#000" stroke-opacity="0.45" stroke-width="0.8"/>
<circle cx="634.1" cy="209.4" r="3.9" fill="#1f77b4" fill-opacity="0.93" stroke="#000" stroke-opacity="0.8" stroke-width="0.8"/>
<circle cx="634.1" cy="216.3" r="3.9" fill="#1f77b4" fill-opacity="0.93" stroke="#000" stroke-opacity="0.8" stroke-width="0.8"/>
<circle cx="634.1" cy="242.8" r="3.9" fill="#1f77b4" fill-opacity="0.75" stroke="#000" stroke-opacity="0.45" stroke-width="0.8"/>
<circle cx="638.8" cy="217.7" r="3.9" fill="#1f77b4" fill-opacity="0.75" stroke="#000" stroke-opacity="0.45" stroke-width="0.8"/>
<circle cx="638.8" cy="236.7" r="3.9" fill="#1f77b4" fill-opacity="0.93" stroke="#000" stroke-opacity="0.8" stroke-width="0.8"/>
<circle cx="642.4" cy="250.1" r="3.9" fill="#1f77b4" fill-opacity="0.93" stroke="#000" stroke-opacity="0.8" stroke-width="0.8"/>
<circle cx="642.4" cy="258.3" r="3.9" fill="#1f77b4" fill-opacity="0.93" stroke="#000" stroke-opacity="0.8" stroke-width="0.8"/>
<circle cx="410.6" cy="211.3" r="3.9" fill="#1f77b4" fill-opacity="0.93" stroke="#000" stroke-opacity="0.8" stroke-width="0.8"/>
<circle cx="671.4" cy="211.2" r="3.9" fill="#1f77b4" fill-opacity="0.93" stroke="#000" stroke-opacity="0.8" stroke-width="0.8"/>
</g>
<rect x="410.6" y="0.5" width="260.79999999999995" height="302.0" fill="none" stroke="#000" stroke-width="0.9"/>
<line x1="406.6" y1="297.00" x2="410.6" y2="297.00" stroke="#000" stroke-width="0.9"/>
<g transform="translate(401.40,301.40)" fill="#000"><text x="-38.31" y="0.00" font-size="13.25" textLength="38.31" lengthAdjust="spacingAndGlyphs">−0.02</text></g>
<line x1="406.6" y1="254.15" x2="410.6" y2="254.15" stroke="#000" stroke-width="0.9"/>
<g transform="translate(401.40,258.55)" fill="#000"><text x="-38.31" y="0.00" font-size="13.25" textLength="38.31" lengthAdjust="spacingAndGlyphs">−0.01</text></g>
<line x1="406.6" y1="211.30" x2="410.6" y2="211.30" stroke="#000" stroke-width="0.9"/>
<g transform="translate(401.40,215.70)" fill="#000"><text x="-27.83" y="0.00" font-size="13.25" textLength="27.83" lengthAdjust="spacingAndGlyphs">0.00</text></g>
<line x1="406.6" y1="168.45" x2="410.6" y2="168.45" stroke="#000" stroke-width="0.9"/>
<g transform="translate(401.40,172.85)" fill="#000"><text x="-27.83" y="0.00" font-size="13.25" textLength="27.83" lengthAdjust="spacingAndGlyphs">0.01</text></g>
<line x1="406.6" y1="125.60" x2="410.6" y2="125.60" stroke="#000" stroke-width="0.9"/>
<g transform="translate(401.40,130.00)" fill="#000"><text x="-27.83" y="0.00" font-size="13.25" textLength="27.83" lengthAdjust="spacingAndGlyphs">0.02</text></g>
<line x1="406.6" y1="82.75" x2="410.6" y2="82.75" stroke="#000" stroke-width="0.9"/>
<g transform="translate(401.40,87.15)" fill="#000"><text x="-27.83" y="0.00" font-size="13.25" textLength="27.83" lengthAdjust="spacingAndGlyphs">0.03</text></g>
<line x1="406.6" y1="39.90" x2="410.6" y2="39.90" stroke="#000" stroke-width="0.9"/>
<g transform="translate(401.40,44.30)" fill="#000"><text x="-27.83" y="0.00" font-size="13.25" textLength="27.83" lengthAdjust="spacingAndGlyphs">0.04</text></g>
<line x1="408.3" y1="275.57" x2="410.6" y2="275.57" stroke="#000" stroke-width="0.7"/>
<line x1="408.3" y1="232.73" x2="410.6" y2="232.73" stroke="#000" stroke-width="0.7"/>
<line x1="408.3" y1="189.88" x2="410.6" y2="189.88" stroke="#000" stroke-width="0.7"/>
<line x1="408.3" y1="147.03" x2="410.6" y2="147.03" stroke="#000" stroke-width="0.7"/>
<line x1="408.3" y1="104.18" x2="410.6" y2="104.18" stroke="#000" stroke-width="0.7"/>
<line x1="408.3" y1="61.32" x2="410.6" y2="61.32" stroke="#000" stroke-width="0.7"/>
<line x1="408.3" y1="18.48" x2="410.6" y2="18.48" stroke="#000" stroke-width="0.7"/>
<line x1="410.60" y1="302.5" x2="410.60" y2="306.5" stroke="#000" stroke-width="0.9"/>
<g transform="translate(410.60,320.90)" fill="#000"><text x="-15.97" y="0.00" font-size="13.25" textLength="26.37" lengthAdjust="spacingAndGlyphs">MoS</text><text x="10.40" y="2.12" font-size="9.28" textLength="5.57" lengthAdjust="spacingAndGlyphs">2</text></g>
<line x1="462.76" y1="302.5" x2="462.76" y2="306.5" stroke="#000" stroke-width="0.9"/>
<g transform="translate(462.76,320.90)" fill="#000"><text x="-9.94" y="0.00" font-size="13.25" textLength="19.88" lengthAdjust="spacingAndGlyphs">0.2</text></g>
<line x1="514.92" y1="302.5" x2="514.92" y2="306.5" stroke="#000" stroke-width="0.9"/>
<g transform="translate(514.92,320.90)" fill="#000"><text x="-9.94" y="0.00" font-size="13.25" textLength="19.88" lengthAdjust="spacingAndGlyphs">0.4</text></g>
<line x1="567.08" y1="302.5" x2="567.08" y2="306.5" stroke="#000" stroke-width="0.9"/>
<g transform="translate(567.08,320.90)" fill="#000"><text x="-9.94" y="0.00" font-size="13.25" textLength="19.88" lengthAdjust="spacingAndGlyphs">0.6</text></g>
<line x1="619.24" y1="302.5" x2="619.24" y2="306.5" stroke="#000" stroke-width="0.9"/>
<g transform="translate(619.24,320.90)" fill="#000"><text x="-9.94" y="0.00" font-size="13.25" textLength="19.88" lengthAdjust="spacingAndGlyphs">0.8</text></g>
<line x1="671.40" y1="302.5" x2="671.40" y2="306.5" stroke="#000" stroke-width="0.9"/>
<g transform="translate(671.40,320.90)" fill="#000"><text x="-13.36" y="0.00" font-size="13.25" textLength="21.16" lengthAdjust="spacingAndGlyphs">TaS</text><text x="7.80" y="2.12" font-size="9.28" textLength="5.57" lengthAdjust="spacingAndGlyphs">2</text></g>
<line x1="436.68" y1="302.5" x2="436.68" y2="304.8" stroke="#000" stroke-width="0.7"/>
<line x1="488.84" y1="302.5" x2="488.84" y2="304.8" stroke="#000" stroke-width="0.7"/>
<line x1="541.00" y1="302.5" x2="541.00" y2="304.8" stroke="#000" stroke-width="0.7"/>
<line x1="593.16" y1="302.5" x2="593.16" y2="304.8" stroke="#000" stroke-width="0.7"/>
<line x1="645.32" y1="302.5" x2="645.32" y2="304.8" stroke="#000" stroke-width="0.7"/>
<rect x="516.5" y="6.7" width="148.1" height="24.6" rx="2.5" fill="#fff" fill-opacity="0.8" stroke="#d0d0d0" stroke-width="0.9"/>
<circle cx="534.8" cy="18.1" r="4.1" fill="#1f77b4" fill-opacity="0.7" stroke="#000" stroke-opacity="0.3" stroke-width="0.6"/>
<g transform="translate(558.20,22.30)" fill="#000"><text x="0.00" y="0.00" font-size="13.25" textLength="93.97" lengthAdjust="spacingAndGlyphs">prototype MoS</text><text x="93.97" y="2.12" font-size="9.28" textLength="5.73" lengthAdjust="spacingAndGlyphs">2</text></g>
<g transform="translate(540.50,339.20)" fill="#000"><text x="-91.65" y="0.00" font-size="13.25" textLength="91.19" lengthAdjust="spacingAndGlyphs">Concentration</text><text x="3.64" y="0.00" font-size="13.25" font-style="italic" textLength="7.63" lengthAdjust="spacingAndGlyphs">x</text><text x="15.36" y="0.00" font-size="13.25" textLength="19.01" lengthAdjust="spacingAndGlyphs">Mo</text><text x="34.37" y="2.12" font-size="9.28" textLength="16.17" lengthAdjust="spacingAndGlyphs">1 −</text><text x="53.41" y="2.12" font-size="9.28" font-style="italic" textLength="5.34" lengthAdjust="spacingAndGlyphs">x</text><text x="58.75" y="0.00" font-size="13.25" textLength="13.64" lengthAdjust="spacingAndGlyphs">Ta</text><text x="72.39" y="2.12" font-size="9.28" font-style="italic" textLength="5.34" lengthAdjust="spacingAndGlyphs">x</text><text x="77.73" y="0.00" font-size="13.25" textLength="8.18" lengthAdjust="spacingAndGlyphs">S</text><text x="85.91" y="2.12" font-size="9.28" textLength="5.74" lengthAdjust="spacingAndGlyphs">2</text></g>
<g transform="translate(352.80,151.80) rotate(-90)" fill="#000"><text x="-96.65" y="0.00" font-size="13.25" textLength="116.03" lengthAdjust="spacingAndGlyphs">Formation energy</text><text x="23.55" y="0.00" font-size="13.25" font-style="italic" textLength="8.28" lengthAdjust="spacingAndGlyphs">E</text><text x="31.84" y="2.12" font-size="9.28" textLength="5.28" lengthAdjust="spacingAndGlyphs">F</text><text x="41.28" y="0.00" font-size="13.25" textLength="55.37" lengthAdjust="spacingAndGlyphs">[eV/site]</text></g>
<text x="491.80" y="375.6" font-size="16.8" fill="#000" textLength="89.25" lengthAdjust="spacingAndGlyphs">(b) (Mo:Ta)S</text><text x="581.05" y="377.5" font-size="11.42" fill="#000">2</text>
<clipPath id="clipc"><rect x="48.6" y="398.3" width="278.2" height="301.90000000000003"/></clipPath>
<g clip-path="url(#clipc)">
<line x1="48.6" y1="686.4" x2="326.8" y2="686.4" stroke="#a0a0a0" stroke-width="1" stroke-dasharray="4,1.3,0.7,1.3"/>
<circle cx="141.3" cy="542.0" r="2.0" fill="#add8e6" fill-opacity="0.9"/>
<circle cx="257.2" cy="595.9" r="2.0" fill="#add8e6" fill-opacity="0.9"/>
<circle cx="271.2" cy="616.0" r="2.0" fill="#add8e6" fill-opacity="0.9"/>
<circle cx="280.4" cy="625.8" r="2.0" fill="#add8e6" fill-opacity="0.9"/>
<path d="M48.60,541.20 L326.80,686.40" fill="none" stroke="#5b9bd0" stroke-width="2.3" stroke-linejoin="round"/>
<line x1="48.6" y1="541.2" x2="326.8" y2="686.4" stroke="#1f5080" stroke-width="1.2" stroke-dasharray="2.3,2.6" stroke-opacity="0.45"/>
<line x1="48.6" y1="686.4" x2="326.8" y2="412" stroke="#7a7a7a" stroke-width="2.0" stroke-dasharray="2.0,3.1"/>
<path d="M48.60,686.40 L167.83,611.80 L234.07,571.40 L287.06,517.10 L292.02,506.40 L326.80,412.00" fill="none" stroke="#e05c5d" stroke-width="2.2" stroke-linejoin="round"/>
<circle cx="48.6" cy="541.2" r="3.9" fill="#1f77b4" fill-opacity="0.72" stroke="#000" stroke-opacity="0.45" stroke-width="0.8"/>
<path d="M50.78,682.36 L52.64,684.22 L50.47,686.40 L52.64,688.58 L50.78,690.44 L48.60,688.27 L46.42,690.44 L44.56,688.58 L46.73,686.40 L44.56,684.22 L46.42,682.36 L48.60,684.53Z" fill="#d62728" fill-opacity="0.95" stroke="#000" stroke-opacity="0.85" stroke-width="0.7" stroke-linejoin="miter"/>
<circle cx="83.4" cy="535.9" r="3.9" fill="#1f77b4" fill-opacity="0.72" stroke="#000" stroke-opacity="0.45" stroke-width="0.8"/>
<circle cx="88.3" cy="528.0" r="3.9" fill="#1f77b4" fill-opacity="0.72" stroke="#000" stroke-opacity="0.45" stroke-width="0.8"/>
<path d="M88.34,624.40 L89.09,626.15 L90.84,626.90 L89.09,627.65 L88.34,629.40 L87.59,627.65 L85.84,626.90 L87.59,626.15Z" fill="#ff8c1a" fill-opacity="0.85"/>
<path d="M90.52,628.26 L92.39,630.12 L90.21,632.30 L92.39,634.48 L90.52,636.34 L88.34,634.17 L86.16,636.34 L84.30,634.48 L86.48,632.30 L84.30,630.12 L86.16,628.26 L88.34,630.43Z" fill="#d62728" fill-opacity="0.95" stroke="#000" stroke-opacity="0.85" stroke-width="0.7" stroke-linejoin="miter"/>
<circle cx="95.0" cy="524.5" r="3.9" fill="#1f77b4" fill-opacity="0.72" stroke="#000" stroke-opacity="0.45" stroke-width="0.8"/>
<circle cx="95.0" cy="527.0" r="3.9" fill="#1f77b4" fill-opacity="0.72" stroke="#000" stroke-opacity="0.45" stroke-width="0.8"/>
<circle cx="95.0" cy="534.2" r="3.9" fill="#1f77b4" fill-opacity="0.72" stroke="#000" stroke-opacity="0.45" stroke-width="0.8"/>
<path d="M97.14,620.96 L99.01,622.82 L96.83,625.00 L99.01,627.18 L97.14,629.04 L94.97,626.87 L92.79,629.04 L90.92,627.18 L93.10,625.00 L90.92,622.82 L92.79,620.96 L94.97,623.13Z" fill="#d62728" fill-opacity="0.72" stroke="#000" stroke-opacity="0.7" stroke-width="0.7" stroke-linejoin="miter"/>
<circle cx="104.2" cy="523.7" r="3.9" fill="#1f77b4" fill-opacity="0.72" stroke="#000" stroke-opacity="0.45" stroke-width="0.8"/>
<circle cx="104.2" cy="534.2" r="3.9" fill="#1f77b4" fill-opacity="0.72" stroke="#000" stroke-opacity="0.45" stroke-width="0.8"/>
<path d="M104.24,617.10 L104.99,618.85 L106.74,619.60 L104.99,620.35 L104.24,622.10 L103.49,620.35 L101.74,619.60 L103.49,618.85Z" fill="#ff8c1a" fill-opacity="0.85"/>
<path d="M106.42,608.56 L108.28,610.42 L106.11,612.60 L108.28,614.78 L106.42,616.64 L104.24,614.47 L102.06,616.64 L100.20,614.78 L102.37,612.60 L100.20,610.42 L102.06,608.56 L104.24,610.73Z" fill="#d62728" fill-opacity="0.72" stroke="#000" stroke-opacity="0.7" stroke-width="0.7" stroke-linejoin="miter"/>
<circle cx="118.2" cy="519.5" r="3.9" fill="#1f77b4" fill-opacity="0.72" stroke="#000" stroke-opacity="0.45" stroke-width="0.8"/>
<circle cx="118.2" cy="521.0" r="3.9" fill="#1f77b4" fill-opacity="0.72" stroke="#000" stroke-opacity="0.45" stroke-width="0.8"/>
<circle cx="118.2" cy="533.6" r="3.9" fill="#1f77b4" fill-opacity="0.72" stroke="#000" stroke-opacity="0.45" stroke-width="0.8"/>
<path d="M118.15,601.60 L118.90,603.35 L120.65,604.10 L118.90,604.85 L118.15,606.60 L117.40,604.85 L115.65,604.10 L117.40,603.35Z" fill="#ff8c1a" fill-opacity="0.85"/>
<path d="M120.33,587.36 L122.19,589.22 L120.02,591.40 L122.19,593.58 L120.33,595.44 L118.15,593.27 L115.97,595.44 L114.11,593.58 L116.28,591.40 L114.11,589.22 L115.97,587.36 L118.15,589.53Z" fill="#d62728" fill-opacity="0.72" stroke="#000" stroke-opacity="0.7" stroke-width="0.7" stroke-linejoin="miter"/>
<path d="M120.33,590.96 L122.19,592.82 L120.02,595.00 L122.19,597.18 L120.33,599.04 L118.15,596.87 L115.97,599.04 L114.11,597.18 L116.28,595.00 L114.11,592.82 L115.97,590.96 L118.15,593.13Z" fill="#d62728" fill-opacity="0.72" stroke="#000" stroke-opacity="0.7" stroke-width="0.7" stroke-linejoin="miter"/>
<path d="M120.33,593.66 L122.19,595.52 L120.02,597.70 L122.19,599.88 L120.33,601.74 L118.15,599.57 L115.97,601.74 L114.11,599.88 L116.28,597.70 L114.11,595.52 L115.97,593.66 L118.15,595.83Z" fill="#d62728" fill-opacity="0.72" stroke="#000" stroke-opacity="0.7" stroke-width="0.7" stroke-linejoin="miter"/>
<path d="M130.26,589.26 L132.13,591.12 L129.95,593.30 L132.13,595.48 L130.26,597.34 L128.09,595.17 L125.91,597.34 L124.04,595.48 L126.22,593.30 L124.04,591.12 L125.91,589.26 L128.09,591.43Z" fill="#d62728" fill-opacity="0.72" stroke="#000" stroke-opacity="0.7" stroke-width="0.7" stroke-linejoin="miter"/>
<circle cx="141.3" cy="514.6" r="3.9" fill="#1f77b4" fill-opacity="0.72" stroke="#000" stroke-opacity="0.45" stroke-width="0.8"/>
<circle cx="141.3" cy="533.9" r="3.9" fill="#1f77b4" fill-opacity="0.72" stroke="#000" stroke-opacity="0.45" stroke-width="0.8"/>
<path d="M141.33,572.80 L142.08,574.55 L143.83,575.30 L142.08,576.05 L141.33,577.80 L140.58,576.05 L138.83,575.30 L140.58,574.55Z" fill="#ff8c1a" fill-opacity="0.85"/>
<path d="M143.51,565.46 L145.38,567.32 L143.20,569.50 L145.38,571.68 L143.51,573.54 L141.33,571.37 L139.16,573.54 L137.29,571.68 L139.47,569.50 L137.29,567.32 L139.16,565.46 L141.33,567.63Z" fill="#d62728" fill-opacity="0.95" stroke="#000" stroke-opacity="0.85" stroke-width="0.7" stroke-linejoin="miter"/>
<path d="M143.51,577.56 L145.38,579.42 L143.20,581.60 L145.38,583.78 L143.51,585.64 L141.33,583.47 L139.16,585.64 L137.29,583.78 L139.47,581.60 L137.29,579.42 L139.16,577.56 L141.33,579.73Z" fill="#d62728" fill-opacity="0.72" stroke="#000" stroke-opacity="0.7" stroke-width="0.7" stroke-linejoin="miter"/>
<path d="M143.51,581.46 L145.38,583.32 L143.20,585.50 L145.38,587.68 L143.51,589.54 L141.33,587.37 L139.16,589.54 L137.29,587.68 L139.47,585.50 L137.29,583.32 L139.16,581.46 L141.33,583.63Z" fill="#d62728" fill-opacity="0.72" stroke="#000" stroke-opacity="0.7" stroke-width="0.7" stroke-linejoin="miter"/>
<path d="M143.51,585.86 L145.38,587.72 L143.20,589.90 L145.38,592.08 L143.51,593.94 L141.33,591.77 L139.16,593.94 L137.29,592.08 L139.47,589.90 L137.29,587.72 L139.16,585.86 L141.33,588.03Z" fill="#d62728" fill-opacity="0.72" stroke="#000" stroke-opacity="0.7" stroke-width="0.7" stroke-linejoin="miter"/>
<path d="M143.51,588.06 L145.38,589.92 L143.20,592.10 L145.38,594.28 L143.51,596.14 L141.33,593.97 L139.16,596.14 L137.29,594.28 L139.47,592.10 L137.29,589.92 L139.16,588.06 L141.33,590.23Z" fill="#d62728" fill-opacity="0.72" stroke="#000" stroke-opacity="0.7" stroke-width="0.7" stroke-linejoin="miter"/>
<path d="M143.51,614.06 L145.38,615.92 L143.20,618.10 L145.38,620.28 L143.51,622.14 L141.33,619.97 L139.16,622.14 L137.29,620.28 L139.47,618.10 L137.29,615.92 L139.16,614.06 L141.33,616.23Z" fill="#d62728" fill-opacity="0.72" stroke="#000" stroke-opacity="0.7" stroke-width="0.7" stroke-linejoin="miter"/>
<path d="M155.10,614.06 L156.97,615.92 L154.79,618.10 L156.97,620.28 L155.10,622.14 L152.92,619.97 L150.75,622.14 L148.88,620.28 L151.06,618.10 L148.88,615.92 L150.75,614.06 L152.92,616.23Z" fill="#d62728" fill-opacity="0.72" stroke="#000" stroke-opacity="0.7" stroke-width="0.7" stroke-linejoin="miter"/>
<circle cx="159.9" cy="528.9" r="3.9" fill="#1f77b4" fill-opacity="0.72" stroke="#000" stroke-opacity="0.45" stroke-width="0.8"/>
<circle cx="159.9" cy="545.0" r="3.9" fill="#1f77b4" fill-opacity="0.72" stroke="#000" stroke-opacity="0.45" stroke-width="0.8"/>
<circle cx="159.9" cy="568.7" r="3.9" fill="#1f77b4" fill-opacity="0.72" stroke="#000" stroke-opacity="0.45" stroke-width="0.8"/>
<path d="M159.88,553.70 L160.63,555.45 L162.38,556.20 L160.63,556.95 L159.88,558.70 L159.13,556.95 L157.38,556.20 L159.13,555.45Z" fill="#ff8c1a" fill-opacity="0.85"/>
<path d="M159.88,570.50 L160.63,572.25 L162.38,573.00 L160.63,573.75 L159.88,575.50 L159.13,573.75 L157.38,573.00 L159.13,572.25Z" fill="#ff8c1a" fill-opacity="0.85"/>
<path d="M162.06,556.56 L163.92,558.42 L161.75,560.60 L163.92,562.78 L162.06,564.64 L159.88,562.47 L157.70,564.64 L155.84,562.78 L158.01,560.60 L155.84,558.42 L157.70,556.56 L159.88,558.73Z" fill="#d62728" fill-opacity="0.72" stroke="#000" stroke-opacity="0.7" stroke-width="0.7" stroke-linejoin="miter"/>
<path d="M162.06,572.16 L163.92,574.02 L161.75,576.20 L163.92,578.38 L162.06,580.24 L159.88,578.07 L157.70,580.24 L155.84,578.38 L158.01,576.20 L155.84,574.02 L157.70,572.16 L159.88,574.33Z" fill="#d62728" fill-opacity="0.72" stroke="#000" stroke-opacity="0.7" stroke-width="0.7" stroke-linejoin="miter"/>
<circle cx="167.8" cy="533.3" r="3.9" fill="#1f77b4" fill-opacity="0.72" stroke="#000" stroke-opacity="0.45" stroke-width="0.8"/>
<circle cx="167.8" cy="552.5" r="3.9" fill="#1f77b4" fill-opacity="0.72" stroke="#000" stroke-opacity="0.45" stroke-width="0.8"/>
<path d="M170.01,585.16 L171.87,587.02 L169.70,589.20 L171.87,591.38 L170.01,593.24 L167.83,591.07 L165.65,593.24 L163.78,591.38 L165.96,589.20 L163.78,587.02 L165.65,585.16 L167.83,587.33Z" fill="#d62728" fill-opacity="0.72" stroke="#000" stroke-opacity="0.7" stroke-width="0.7" stroke-linejoin="miter"/>
<path d="M170.01,607.76 L171.87,609.62 L169.70,611.80 L171.87,613.98 L170.01,615.84 L167.83,613.67 L165.65,615.84 L163.78,613.98 L165.96,611.80 L163.78,609.62 L165.65,607.76 L167.83,609.93Z" fill="#d62728" fill-opacity="0.95" stroke="#000" stroke-opacity="0.85" stroke-width="0.7" stroke-linejoin="miter"/>
<circle cx="187.7" cy="535.0" r="3.9" fill="#1f77b4" fill-opacity="0.72" stroke="#000" stroke-opacity="0.45" stroke-width="0.8"/>
<circle cx="187.7" cy="543.8" r="3.9" fill="#1f77b4" fill-opacity="0.72" stroke="#000" stroke-opacity="0.45" stroke-width="0.8"/>
<circle cx="187.7" cy="548.0" r="3.9" fill="#1f77b4" fill-opacity="0.72" stroke="#000" stroke-opacity="0.45" stroke-width="0.8"/>
<circle cx="187.7" cy="553.3" r="3.9" fill="#1f77b4" fill-opacity="0.72" stroke="#000" stroke-opacity="0.45" stroke-width="0.8"/>
<circle cx="187.7" cy="572.5" r="3.9" fill="#1f77b4" fill-opacity="0.72" stroke="#000" stroke-opacity="0.45" stroke-width="0.8"/>
<circle cx="187.7" cy="575.0" r="3.9" fill="#1f77b4" fill-opacity="0.72" stroke="#000" stroke-opacity="0.45" stroke-width="0.8"/>
<path d="M187.70,580.40 L188.45,582.15 L190.20,582.90 L188.45,583.65 L187.70,585.40 L186.95,583.65 L185.20,582.90 L186.95,582.15Z" fill="#ff8c1a" fill-opacity="0.85"/>
<path d="M189.88,509.06 L191.74,510.92 L189.57,513.10 L191.74,515.28 L189.88,517.14 L187.70,514.97 L185.52,517.14 L183.66,515.28 L185.83,513.10 L183.66,510.92 L185.52,509.06 L187.70,511.23Z" fill="#d62728" fill-opacity="0.72" stroke="#000" stroke-opacity="0.7" stroke-width="0.7" stroke-linejoin="miter"/>
<path d="M189.88,514.16 L191.74,516.02 L189.57,518.20 L191.74,520.38 L189.88,522.24 L187.70,520.07 L185.52,522.24 L183.66,520.38 L185.83,518.20 L183.66,516.02 L185.52,514.16 L187.70,516.33Z" fill="#d62728" fill-opacity="0.72" stroke="#000" stroke-opacity="0.7" stroke-width="0.7" stroke-linejoin="miter"/>
<path d="M189.88,530.26 L191.74,532.12 L189.57,534.30 L191.74,536.48 L189.88,538.34 L187.70,536.17 L185.52,538.34 L183.66,536.48 L185.83,534.30 L183.66,532.12 L185.52,530.26 L187.70,532.43Z" fill="#d62728" fill-opacity="0.72" stroke="#000" stroke-opacity="0.7" stroke-width="0.7" stroke-linejoin="miter"/>
<path d="M189.88,532.46 L191.74,534.32 L189.57,536.50 L191.74,538.68 L189.88,540.54 L187.70,538.37 L185.52,540.54 L183.66,538.68 L185.83,536.50 L183.66,534.32 L185.52,532.46 L187.70,534.63Z" fill="#d62728" fill-opacity="0.72" stroke="#000" stroke-opacity="0.7" stroke-width="0.7" stroke-linejoin="miter"/>
<path d="M189.88,546.36 L191.74,548.22 L189.57,550.40 L191.74,552.58 L189.88,554.44 L187.70,552.27 L185.52,554.44 L183.66,552.58 L185.83,550.40 L183.66,548.22 L185.52,546.36 L187.70,548.53Z" fill="#d62728" fill-opacity="0.72" stroke="#000" stroke-opacity="0.7" stroke-width="0.7" stroke-linejoin="miter"/>
<path d="M189.88,560.16 L191.74,562.02 L189.57,564.20 L191.74,566.38 L189.88,568.24 L187.70,566.07 L185.52,568.24 L183.66,566.38 L185.83,564.20 L183.66,562.02 L185.52,560.16 L187.70,562.33Z" fill="#d62728" fill-opacity="0.72" stroke="#000" stroke-opacity="0.7" stroke-width="0.7" stroke-linejoin="miter"/>
<path d="M189.88,569.66 L191.74,571.52 L189.57,573.70 L191.74,575.88 L189.88,577.74 L187.70,575.57 L185.52,577.74 L183.66,575.88 L185.83,573.70 L183.66,571.52 L185.52,569.66 L187.70,571.83Z" fill="#d62728" fill-opacity="0.72" stroke="#000" stroke-opacity="0.7" stroke-width="0.7" stroke-linejoin="miter"/>
<path d="M189.88,582.86 L191.74,584.72 L189.57,586.90 L191.74,589.08 L189.88,590.94 L187.70,588.77 L185.52,590.94 L183.66,589.08 L185.83,586.90 L183.66,584.72 L185.52,582.86 L187.70,585.03Z" fill="#d62728" fill-opacity="0.95" stroke="#000" stroke-opacity="0.85" stroke-width="0.7" stroke-linejoin="miter"/>
<path d="M205.33,577.26 L207.20,579.12 L205.02,581.30 L207.20,583.48 L205.33,585.34 L203.16,583.17 L200.98,585.34 L199.11,583.48 L201.29,581.30 L199.11,579.12 L200.98,577.26 L203.16,579.43Z" fill="#d62728" fill-opacity="0.72" stroke="#000" stroke-opacity="0.7" stroke-width="0.7" stroke-linejoin="miter"/>
<circle cx="207.6" cy="565.6" r="3.9" fill="#1f77b4" fill-opacity="0.72" stroke="#000" stroke-opacity="0.45" stroke-width="0.8"/>
<path d="M209.75,550.66 L211.62,552.52 L209.44,554.70 L211.62,556.88 L209.75,558.74 L207.57,556.57 L205.39,558.74 L203.53,556.88 L205.70,554.70 L203.53,552.52 L205.39,550.66 L207.57,552.83Z" fill="#d62728" fill-opacity="0.72" stroke="#000" stroke-opacity="0.7" stroke-width="0.7" stroke-linejoin="miter"/>
<circle cx="215.5" cy="551.6" r="3.9" fill="#1f77b4" fill-opacity="0.72" stroke="#000" stroke-opacity="0.45" stroke-width="0.8"/>
<circle cx="215.5" cy="581.3" r="3.9" fill="#1f77b4" fill-opacity="0.72" stroke="#000" stroke-opacity="0.45" stroke-width="0.8"/>
<path d="M217.70,538.26 L219.56,540.12 L217.39,542.30 L219.56,544.48 L217.70,546.34 L215.52,544.17 L213.34,546.34 L211.48,544.48 L213.65,542.30 L211.48,540.12 L213.34,538.26 L215.52,540.43Z" fill="#d62728" fill-opacity="0.72" stroke="#000" stroke-opacity="0.7" stroke-width="0.7" stroke-linejoin="miter"/>
<path d="M217.70,550.66 L219.56,552.52 L217.39,554.70 L219.56,556.88 L217.70,558.74 L215.52,556.57 L213.34,558.74 L211.48,556.88 L213.65,554.70 L211.48,552.52 L213.34,550.66 L215.52,552.83Z" fill="#d62728" fill-opacity="0.72" stroke="#000" stroke-opacity="0.7" stroke-width="0.7" stroke-linejoin="miter"/>
<path d="M217.70,551.96 L219.56,553.82 L217.39,556.00 L219.56,558.18 L217.70,560.04 L215.52,557.87 L213.34,560.04 L211.48,558.18 L213.65,556.00 L211.48,553.82 L213.34,551.96 L215.52,554.13Z" fill="#d62728" fill-opacity="0.72" stroke="#000" stroke-opacity="0.7" stroke-width="0.7" stroke-linejoin="miter"/>
<path d="M222.47,567.00 L223.22,568.75 L224.97,569.50 L223.22,570.25 L222.47,572.00 L221.72,570.25 L219.97,569.50 L221.72,568.75Z" fill="#ff8c1a" fill-opacity="0.85"/>
<path d="M224.65,569.16 L226.52,571.02 L224.34,573.20 L226.52,575.38 L224.65,577.24 L222.47,575.07 L220.30,577.24 L218.43,575.38 L220.61,573.20 L218.43,571.02 L220.30,569.16 L222.47,571.33Z" fill="#d62728" fill-opacity="0.72" stroke="#000" stroke-opacity="0.7" stroke-width="0.7" stroke-linejoin="miter"/>
<circle cx="234.1" cy="559.4" r="3.9" fill="#1f77b4" fill-opacity="0.72" stroke="#000" stroke-opacity="0.45" stroke-width="0.8"/>
<circle cx="234.1" cy="592.0" r="3.9" fill="#1f77b4" fill-opacity="0.72" stroke="#000" stroke-opacity="0.45" stroke-width="0.8"/>
<path d="M236.24,477.56 L238.11,479.42 L235.93,481.60 L238.11,483.78 L236.24,485.64 L234.07,483.47 L231.89,485.64 L230.02,483.78 L232.20,481.60 L230.02,479.42 L231.89,477.56 L234.07,479.73Z" fill="#d62728" fill-opacity="0.72" stroke="#000" stroke-opacity="0.7" stroke-width="0.7" stroke-linejoin="miter"/>
<path d="M236.24,550.66 L238.11,552.52 L235.93,554.70 L238.11,556.88 L236.24,558.74 L234.07,556.57 L231.89,558.74 L230.02,556.88 L232.20,554.70 L230.02,552.52 L231.89,550.66 L234.07,552.83Z" fill="#d62728" fill-opacity="0.72" stroke="#000" stroke-opacity="0.7" stroke-width="0.7" stroke-linejoin="miter"/>
<path d="M236.24,567.36 L238.11,569.22 L235.93,571.40 L238.11,573.58 L236.24,575.44 L234.07,573.27 L231.89,575.44 L230.02,573.58 L232.20,571.40 L230.02,569.22 L231.89,567.36 L234.07,569.53Z" fill="#d62728" fill-opacity="0.95" stroke="#000" stroke-opacity="0.85" stroke-width="0.7" stroke-linejoin="miter"/>
<circle cx="257.2" cy="589.3" r="3.9" fill="#1f77b4" fill-opacity="0.72" stroke="#000" stroke-opacity="0.45" stroke-width="0.8"/>
<circle cx="257.2" cy="591.5" r="3.9" fill="#1f77b4" fill-opacity="0.72" stroke="#000" stroke-opacity="0.45" stroke-width="0.8"/>
<circle cx="257.2" cy="611.2" r="3.9" fill="#1f77b4" fill-opacity="0.72" stroke="#000" stroke-opacity="0.45" stroke-width="0.8"/>
<path d="M259.43,449.06 L261.29,450.92 L259.12,453.10 L261.29,455.28 L259.43,457.14 L257.25,454.97 L255.07,457.14 L253.21,455.28 L255.38,453.10 L253.21,450.92 L255.07,449.06 L257.25,451.23Z" fill="#d62728" fill-opacity="0.72" stroke="#000" stroke-opacity="0.7" stroke-width="0.7" stroke-linejoin="miter"/>
<path d="M259.43,495.86 L261.29,497.72 L259.12,499.90 L261.29,502.08 L259.43,503.94 L257.25,501.77 L255.07,503.94 L253.21,502.08 L255.38,499.90 L253.21,497.72 L255.07,495.86 L257.25,498.03Z" fill="#d62728" fill-opacity="0.72" stroke="#000" stroke-opacity="0.7" stroke-width="0.7" stroke-linejoin="miter"/>
<path d="M259.43,505.76 L261.29,507.62 L259.12,509.80 L261.29,511.98 L259.43,513.84 L257.25,511.67 L255.07,513.84 L253.21,511.98 L255.38,509.80 L253.21,507.62 L255.07,505.76 L257.25,507.93Z" fill="#d62728" fill-opacity="0.72" stroke="#000" stroke-opacity="0.7" stroke-width="0.7" stroke-linejoin="miter"/>
<path d="M259.43,526.66 L261.29,528.52 L259.12,530.70 L261.29,532.88 L259.43,534.74 L257.25,532.57 L255.07,534.74 L253.21,532.88 L255.38,530.70 L253.21,528.52 L255.07,526.66 L257.25,528.83Z" fill="#d62728" fill-opacity="0.72" stroke="#000" stroke-opacity="0.7" stroke-width="0.7" stroke-linejoin="miter"/>
<circle cx="271.2" cy="610.3" r="3.9" fill="#1f77b4" fill-opacity="0.72" stroke="#000" stroke-opacity="0.45" stroke-width="0.8"/>
<circle cx="271.2" cy="625.8" r="3.9" fill="#1f77b4" fill-opacity="0.72" stroke="#000" stroke-opacity="0.45" stroke-width="0.8"/>
<path d="M273.34,522.76 L275.20,524.62 L273.03,526.80 L275.20,528.98 L273.34,530.84 L271.16,528.67 L268.98,530.84 L267.12,528.98 L269.29,526.80 L267.12,524.62 L268.98,522.76 L271.16,524.93Z" fill="#d62728" fill-opacity="0.72" stroke="#000" stroke-opacity="0.7" stroke-width="0.7" stroke-linejoin="miter"/>
<circle cx="280.4" cy="620.7" r="3.9" fill="#1f77b4" fill-opacity="0.72" stroke="#000" stroke-opacity="0.45" stroke-width="0.8"/>
<circle cx="280.4" cy="636.4" r="3.9" fill="#1f77b4" fill-opacity="0.72" stroke="#000" stroke-opacity="0.45" stroke-width="0.8"/>
<circle cx="280.4" cy="638.9" r="3.9" fill="#1f77b4" fill-opacity="0.72" stroke="#000" stroke-opacity="0.45" stroke-width="0.8"/>
<circle cx="287.1" cy="642.8" r="3.9" fill="#1f77b4" fill-opacity="0.72" stroke="#000" stroke-opacity="0.45" stroke-width="0.8"/>
<path d="M289.24,513.06 L291.10,514.92 L288.92,517.10 L291.10,519.28 L289.24,521.14 L287.06,518.97 L284.88,521.14 L283.01,519.28 L285.19,517.10 L283.01,514.92 L284.88,513.06 L287.06,515.23Z" fill="#d62728" fill-opacity="0.95" stroke="#000" stroke-opacity="0.85" stroke-width="0.7" stroke-linejoin="miter"/>
<path d="M294.20,502.36 L296.07,504.22 L293.89,506.40 L296.07,508.58 L294.20,510.44 L292.02,508.27 L289.85,510.44 L287.98,508.58 L290.16,506.40 L287.98,504.22 L289.85,502.36 L292.02,504.53Z" fill="#d62728" fill-opacity="0.95" stroke="#000" stroke-opacity="0.85" stroke-width="0.7" stroke-linejoin="miter"/>
<circle cx="326.8" cy="686.4" r="3.9" fill="#1f77b4" fill-opacity="0.72" stroke="#000" stroke-opacity="0.45" stroke-width="0.8"/>
<path d="M328.98,407.96 L330.84,409.82 L328.67,412.00 L330.84,414.18 L328.98,416.04 L326.80,413.87 L324.62,416.04 L322.76,414.18 L324.93,412.00 L322.76,409.82 L324.62,407.96 L326.80,410.13Z" fill="#d62728" fill-opacity="0.95" stroke="#000" stroke-opacity="0.85" stroke-width="0.7" stroke-linejoin="miter"/>
</g>
<rect x="48.6" y="398.3" width="278.2" height="301.90000000000003" fill="none" stroke="#000" stroke-width="0.9"/>
<line x1="44.6" y1="686.40" x2="48.6" y2="686.40" stroke="#000" stroke-width="0.9"/>
<g transform="translate(39.40,690.80)" fill="#000"><text x="-19.88" y="0.00" font-size="13.25" textLength="19.88" lengthAdjust="spacingAndGlyphs">0.0</text></g>
<line x1="44.6" y1="627.40" x2="48.6" y2="627.40" stroke="#000" stroke-width="0.9"/>
<g transform="translate(39.40,631.80)" fill="#000"><text x="-19.88" y="0.00" font-size="13.25" textLength="19.88" lengthAdjust="spacingAndGlyphs">0.2</text></g>
<line x1="44.6" y1="568.40" x2="48.6" y2="568.40" stroke="#000" stroke-width="0.9"/>
<g transform="translate(39.40,572.80)" fill="#000"><text x="-19.88" y="0.00" font-size="13.25" textLength="19.88" lengthAdjust="spacingAndGlyphs">0.4</text></g>
<line x1="44.6" y1="509.40" x2="48.6" y2="509.40" stroke="#000" stroke-width="0.9"/>
<g transform="translate(39.40,513.80)" fill="#000"><text x="-19.88" y="0.00" font-size="13.25" textLength="19.88" lengthAdjust="spacingAndGlyphs">0.6</text></g>
<line x1="44.6" y1="450.40" x2="48.6" y2="450.40" stroke="#000" stroke-width="0.9"/>
<g transform="translate(39.40,454.80)" fill="#000"><text x="-19.88" y="0.00" font-size="13.25" textLength="19.88" lengthAdjust="spacingAndGlyphs">0.8</text></g>
<line x1="46.300000000000004" y1="671.65" x2="48.6" y2="671.65" stroke="#000" stroke-width="0.7"/>
<line x1="46.300000000000004" y1="656.90" x2="48.6" y2="656.90" stroke="#000" stroke-width="0.7"/>
<line x1="46.300000000000004" y1="642.15" x2="48.6" y2="642.15" stroke="#000" stroke-width="0.7"/>
<line x1="46.300000000000004" y1="612.65" x2="48.6" y2="612.65" stroke="#000" stroke-width="0.7"/>
<line x1="46.300000000000004" y1="597.90" x2="48.6" y2="597.90" stroke="#000" stroke-width="0.7"/>
<line x1="46.300000000000004" y1="583.15" x2="48.6" y2="583.15" stroke="#000" stroke-width="0.7"/>
<line x1="46.300000000000004" y1="553.65" x2="48.6" y2="553.65" stroke="#000" stroke-width="0.7"/>
<line x1="46.300000000000004" y1="538.90" x2="48.6" y2="538.90" stroke="#000" stroke-width="0.7"/>
<line x1="46.300000000000004" y1="524.15" x2="48.6" y2="524.15" stroke="#000" stroke-width="0.7"/>
<line x1="46.300000000000004" y1="494.65" x2="48.6" y2="494.65" stroke="#000" stroke-width="0.7"/>
<line x1="46.300000000000004" y1="479.90" x2="48.6" y2="479.90" stroke="#000" stroke-width="0.7"/>
<line x1="46.300000000000004" y1="465.15" x2="48.6" y2="465.15" stroke="#000" stroke-width="0.7"/>
<line x1="46.300000000000004" y1="435.65" x2="48.6" y2="435.65" stroke="#000" stroke-width="0.7"/>
<line x1="46.300000000000004" y1="420.90" x2="48.6" y2="420.90" stroke="#000" stroke-width="0.7"/>
<line x1="46.300000000000004" y1="406.15" x2="48.6" y2="406.15" stroke="#000" stroke-width="0.7"/>
<line x1="48.60" y1="700.2" x2="48.60" y2="704.2" stroke="#000" stroke-width="0.9"/>
<g transform="translate(48.60,718.60)" fill="#000"><text x="-12.11" y="0.00" font-size="13.25" textLength="18.66" lengthAdjust="spacingAndGlyphs">TiS</text><text x="6.55" y="2.12" font-size="9.28" textLength="5.57" lengthAdjust="spacingAndGlyphs">2</text></g>
<line x1="104.24" y1="700.2" x2="104.24" y2="704.2" stroke="#000" stroke-width="0.9"/>
<g transform="translate(104.24,718.60)" fill="#000"><text x="-9.94" y="0.00" font-size="13.25" textLength="19.88" lengthAdjust="spacingAndGlyphs">0.2</text></g>
<line x1="159.88" y1="700.2" x2="159.88" y2="704.2" stroke="#000" stroke-width="0.9"/>
<g transform="translate(159.88,718.60)" fill="#000"><text x="-9.94" y="0.00" font-size="13.25" textLength="19.88" lengthAdjust="spacingAndGlyphs">0.4</text></g>
<line x1="215.52" y1="700.2" x2="215.52" y2="704.2" stroke="#000" stroke-width="0.9"/>
<g transform="translate(215.52,718.60)" fill="#000"><text x="-9.94" y="0.00" font-size="13.25" textLength="19.88" lengthAdjust="spacingAndGlyphs">0.6</text></g>
<line x1="271.16" y1="700.2" x2="271.16" y2="704.2" stroke="#000" stroke-width="0.9"/>
<g transform="translate(271.16,718.60)" fill="#000"><text x="-9.94" y="0.00" font-size="13.25" textLength="19.88" lengthAdjust="spacingAndGlyphs">0.8</text></g>
<line x1="326.80" y1="700.2" x2="326.80" y2="704.2" stroke="#000" stroke-width="0.9"/>
<g transform="translate(326.80,718.60)" fill="#000"><text x="-15.97" y="0.00" font-size="13.25" textLength="26.37" lengthAdjust="spacingAndGlyphs">MoS</text><text x="10.40" y="2.12" font-size="9.28" textLength="5.57" lengthAdjust="spacingAndGlyphs">2</text></g>
<line x1="76.42" y1="700.2" x2="76.42" y2="702.5" stroke="#000" stroke-width="0.7"/>
<line x1="132.06" y1="700.2" x2="132.06" y2="702.5" stroke="#000" stroke-width="0.7"/>
<line x1="187.70" y1="700.2" x2="187.70" y2="702.5" stroke="#000" stroke-width="0.7"/>
<line x1="243.34" y1="700.2" x2="243.34" y2="702.5" stroke="#000" stroke-width="0.7"/>
<line x1="298.98" y1="700.2" x2="298.98" y2="702.5" stroke="#000" stroke-width="0.7"/>
<rect x="55.4" y="404.7" width="148.2" height="44.9" rx="2.5" fill="#fff" fill-opacity="0.8" stroke="#d0d0d0" stroke-width="0.9"/>
<circle cx="73.3" cy="415.4" r="4.1" fill="#1f77b4" fill-opacity="0.7" stroke="#000" stroke-opacity="0.3" stroke-width="0.6"/>
<path d="M75.13,433.10 L76.70,434.67 L74.87,436.50 L76.70,438.33 L75.13,439.90 L73.30,438.07 L71.47,439.90 L69.90,438.33 L71.73,436.50 L69.90,434.67 L71.47,433.10 L73.30,434.93Z" fill="#d62728" fill-opacity="0.68" stroke="#000" stroke-opacity="0.3" stroke-width="0.7" stroke-linejoin="miter"/>
<g transform="translate(97.10,419.80)" fill="#000"><text x="0.00" y="0.00" font-size="13.25" textLength="93.97" lengthAdjust="spacingAndGlyphs">prototype MoS</text><text x="93.97" y="2.12" font-size="9.28" textLength="5.73" lengthAdjust="spacingAndGlyphs">2</text></g>
<g transform="translate(97.10,440.70)" fill="#000"><text x="0.00" y="0.00" font-size="13.25" textLength="87.86" lengthAdjust="spacingAndGlyphs">prototype CdI</text><text x="87.86" y="2.12" font-size="9.28" textLength="5.74" lengthAdjust="spacingAndGlyphs">2</text></g>
<g transform="translate(187.30,736.90)" fill="#000"><text x="-89.30" y="0.00" font-size="13.25" textLength="90.12" lengthAdjust="spacingAndGlyphs">Concentration</text><text x="4.87" y="0.00" font-size="13.25" font-style="italic" textLength="7.54" lengthAdjust="spacingAndGlyphs">x</text><text x="16.46" y="0.00" font-size="13.25" textLength="10.93" lengthAdjust="spacingAndGlyphs">Ti</text><text x="27.39" y="2.12" font-size="9.28" textLength="15.98" lengthAdjust="spacingAndGlyphs">1 −</text><text x="46.20" y="2.12" font-size="9.28" font-style="italic" textLength="5.28" lengthAdjust="spacingAndGlyphs">x</text><text x="51.48" y="0.00" font-size="13.25" textLength="18.78" lengthAdjust="spacingAndGlyphs">Mo</text><text x="70.26" y="2.12" font-size="9.28" font-style="italic" textLength="5.28" lengthAdjust="spacingAndGlyphs">x</text><text x="75.54" y="0.00" font-size="13.25" textLength="8.09" lengthAdjust="spacingAndGlyphs">S</text><text x="83.63" y="2.12" font-size="9.28" textLength="5.67" lengthAdjust="spacingAndGlyphs">2</text></g>
<g transform="translate(10.00,548.60) rotate(-90)" fill="#000"><text x="-96.65" y="0.00" font-size="13.25" textLength="116.03" lengthAdjust="spacingAndGlyphs">Formation energy</text><text x="23.55" y="0.00" font-size="13.25" font-style="italic" textLength="8.28" lengthAdjust="spacingAndGlyphs">E</text><text x="31.84" y="2.12" font-size="9.28" textLength="5.28" lengthAdjust="spacingAndGlyphs">F</text><text x="41.28" y="0.00" font-size="13.25" textLength="55.37" lengthAdjust="spacingAndGlyphs">[eV/site]</text></g>
<text x="126.10" y="772.8" font-size="16.8" fill="#000" textLength="84.95" lengthAdjust="spacingAndGlyphs">(c) (Mo:Ti)S</text><text x="211.05" y="774.6999999999999" font-size="11.42" fill="#000">2</text>
<clipPath id="clipd"><rect x="391.8" y="398.4" width="279.40000000000003" height="301.6"/></clipPath>
<g clip-path="url(#clipd)">
<line x1="391.8" y1="669.8" x2="671.2" y2="669.8" stroke="#a0a0a0" stroke-width="1" stroke-dasharray="4,1.3,0.7,1.3"/>
<circle cx="431.7" cy="440.7" r="2.0" fill="#add8e6" fill-opacity="0.9"/>
<line x1="471.6" y1="471.0" x2="471.6" y2="477.6" stroke="#add8e6" stroke-opacity="0.9" stroke-width="3.6" stroke-linecap="round"/>
<line x1="511.5" y1="504.3" x2="511.5" y2="512.0" stroke="#add8e6" stroke-opacity="0.9" stroke-width="3.6" stroke-linecap="round"/>
<circle cx="511.5" cy="516.2" r="2.0" fill="#add8e6" fill-opacity="0.9"/>
<line x1="551.5" y1="538.8" x2="551.5" y2="550.5" stroke="#add8e6" stroke-opacity="0.9" stroke-width="3.6" stroke-linecap="round"/>
<circle cx="551.5" cy="554.0" r="2.0" fill="#add8e6" fill-opacity="0.9"/>
<line x1="591.4" y1="580.0" x2="591.4" y2="591.7" stroke="#add8e6" stroke-opacity="0.9" stroke-width="3.6" stroke-linecap="round"/>
<line x1="631.3" y1="624.0" x2="631.3" y2="629.4" stroke="#add8e6" stroke-opacity="0.9" stroke-width="3.6" stroke-linecap="round"/>
<path d="M391.80,414.60 L671.20,669.80" fill="none" stroke="#5b9bd0" stroke-width="2.3" stroke-linejoin="round"/>
<line x1="391.8" y1="414.6" x2="671.2" y2="669.8" stroke="#1f5080" stroke-width="1.2" stroke-dasharray="2.3,2.6" stroke-opacity="0.45"/>
<line x1="391.8" y1="669.8" x2="671.2" y2="631.8" stroke="#7a7a7a" stroke-width="2.0" stroke-dasharray="2.0,3.1"/>
<path d="M391.80,669.80 L426.73,676.00 L484.93,686.00 L531.50,683.30 L551.46,680.00 L591.37,671.50 L631.29,652.50 L671.20,631.80" fill="none" stroke="#e05c5d" stroke-width="2.2" stroke-linejoin="round"/>
<circle cx="391.8" cy="414.6" r="3.9" fill="#1f77b4" fill-opacity="0.93" stroke="#000" stroke-opacity="0.8" stroke-width="0.8"/>
<path d="M393.98,665.76 L395.84,667.62 L393.67,669.80 L395.84,671.98 L393.98,673.84 L391.80,671.67 L389.62,673.84 L387.76,671.98 L389.93,669.80 L387.76,667.62 L389.62,665.76 L391.80,667.93Z" fill="#d62728" fill-opacity="0.92" stroke="#000" stroke-opacity="0.8" stroke-width="0.7" stroke-linejoin="miter"/>
<path d="M426.73,673.00 L427.48,674.75 L429.23,675.50 L427.48,676.25 L426.73,678.00 L425.98,676.25 L424.23,675.50 L425.98,674.75Z" fill="#ff8c1a" fill-opacity="0.85"/>
<path d="M433.89,669.96 L435.76,671.82 L433.58,674.00 L435.76,676.18 L433.89,678.04 L431.71,675.87 L429.54,678.04 L427.67,676.18 L429.85,674.00 L427.67,671.82 L429.54,669.96 L431.71,672.13Z" fill="#d62728" fill-opacity="0.92" stroke="#000" stroke-opacity="0.8" stroke-width="0.7" stroke-linejoin="miter"/>
<path d="M433.89,675.06 L435.76,676.92 L433.58,679.10 L435.76,681.28 L433.89,683.14 L431.71,680.97 L429.54,683.14 L427.67,681.28 L429.85,679.10 L427.67,676.92 L429.54,675.06 L431.71,677.23Z" fill="#d62728" fill-opacity="0.92" stroke="#000" stroke-opacity="0.8" stroke-width="0.7" stroke-linejoin="miter"/>
<circle cx="438.4" cy="442.8" r="3.9" fill="#1f77b4" fill-opacity="0.93" stroke="#000" stroke-opacity="0.8" stroke-width="0.8"/>
<circle cx="438.4" cy="445.4" r="3.9" fill="#1f77b4" fill-opacity="0.93" stroke="#000" stroke-opacity="0.8" stroke-width="0.8"/>
<path d="M440.54,671.46 L442.41,673.32 L440.23,675.50 L442.41,677.68 L440.54,679.54 L438.37,677.37 L436.19,679.54 L434.32,677.68 L436.50,675.50 L434.32,673.32 L436.19,671.46 L438.37,673.63Z" fill="#d62728" fill-opacity="0.92" stroke="#000" stroke-opacity="0.8" stroke-width="0.7" stroke-linejoin="miter"/>
<path d="M440.54,677.26 L442.41,679.12 L440.23,681.30 L442.41,683.48 L440.54,685.34 L438.37,683.17 L436.19,685.34 L434.32,683.48 L436.50,681.30 L434.32,679.12 L436.19,677.26 L438.37,679.43Z" fill="#d62728" fill-opacity="0.92" stroke="#000" stroke-opacity="0.8" stroke-width="0.7" stroke-linejoin="miter"/>
<circle cx="447.7" cy="452.4" r="3.9" fill="#1f77b4" fill-opacity="0.93" stroke="#000" stroke-opacity="0.8" stroke-width="0.8"/>
<path d="M449.86,672.86 L451.72,674.72 L449.55,676.90 L451.72,679.08 L449.86,680.94 L447.68,678.77 L445.50,680.94 L443.64,679.08 L445.81,676.90 L443.64,674.72 L445.50,672.86 L447.68,675.03Z" fill="#d62728" fill-opacity="0.92" stroke="#000" stroke-opacity="0.8" stroke-width="0.7" stroke-linejoin="miter"/>
<path d="M449.86,677.26 L451.72,679.12 L449.55,681.30 L451.72,683.48 L449.86,685.34 L447.68,683.17 L445.50,685.34 L443.64,683.48 L445.81,681.30 L443.64,679.12 L445.50,677.26 L447.68,679.43Z" fill="#d62728" fill-opacity="0.92" stroke="#000" stroke-opacity="0.8" stroke-width="0.7" stroke-linejoin="miter"/>
<circle cx="461.6" cy="459.9" r="3.9" fill="#1f77b4" fill-opacity="0.93" stroke="#000" stroke-opacity="0.8" stroke-width="0.8"/>
<circle cx="461.6" cy="462.6" r="3.9" fill="#1f77b4" fill-opacity="0.93" stroke="#000" stroke-opacity="0.8" stroke-width="0.8"/>
<line x1="461.6" y1="671.4" x2="461.6" y2="675.7" stroke="#ff8c1a" stroke-opacity="0.85" stroke-width="3.0" stroke-linecap="round"/>
<path d="M461.65,667.90 L462.40,669.65 L464.15,670.40 L462.40,671.15 L461.65,672.90 L460.90,671.15 L459.15,670.40 L460.90,669.65Z" fill="#ff8c1a" fill-opacity="0.85"/>
<path d="M463.83,675.06 L465.69,676.92 L463.52,679.10 L465.69,681.28 L463.83,683.14 L461.65,680.97 L459.47,683.14 L457.61,681.28 L459.78,679.10 L457.61,676.92 L459.47,675.06 L461.65,677.23Z" fill="#d62728" fill-opacity="0.92" stroke="#000" stroke-opacity="0.8" stroke-width="0.7" stroke-linejoin="miter"/>
<path d="M463.83,678.76 L465.69,680.62 L463.52,682.80 L465.69,684.98 L463.83,686.84 L461.65,684.67 L459.47,686.84 L457.61,684.98 L459.78,682.80 L457.61,680.62 L459.47,678.76 L461.65,680.93Z" fill="#d62728" fill-opacity="0.92" stroke="#000" stroke-opacity="0.8" stroke-width="0.7" stroke-linejoin="miter"/>
<path d="M473.81,664.86 L475.67,666.72 L473.50,668.90 L475.67,671.08 L473.81,672.94 L471.63,670.77 L469.45,672.94 L467.58,671.08 L469.76,668.90 L467.58,666.72 L469.45,664.86 L471.63,667.03Z" fill="#d62728" fill-opacity="0.92" stroke="#000" stroke-opacity="0.8" stroke-width="0.7" stroke-linejoin="miter"/>
<path d="M473.81,672.86 L475.67,674.72 L473.50,676.90 L475.67,679.08 L473.81,680.94 L471.63,678.77 L469.45,680.94 L467.58,679.08 L469.76,676.90 L467.58,674.72 L469.45,672.86 L471.63,675.03Z" fill="#d62728" fill-opacity="0.92" stroke="#000" stroke-opacity="0.8" stroke-width="0.7" stroke-linejoin="miter"/>
<path d="M473.81,675.86 L475.67,677.72 L473.50,679.90 L475.67,682.08 L473.81,683.94 L471.63,681.77 L469.45,683.94 L467.58,682.08 L469.76,679.90 L467.58,677.72 L469.45,675.86 L471.63,678.03Z" fill="#d62728" fill-opacity="0.92" stroke="#000" stroke-opacity="0.8" stroke-width="0.7" stroke-linejoin="miter"/>
<path d="M473.81,678.76 L475.67,680.62 L473.50,682.80 L475.67,684.98 L473.81,686.84 L471.63,684.67 L469.45,686.84 L467.58,684.98 L469.76,682.80 L467.58,680.62 L469.45,678.76 L471.63,680.93Z" fill="#d62728" fill-opacity="0.92" stroke="#000" stroke-opacity="0.8" stroke-width="0.7" stroke-linejoin="miter"/>
<circle cx="484.9" cy="481.3" r="3.9" fill="#1f77b4" fill-opacity="0.93" stroke="#000" stroke-opacity="0.8" stroke-width="0.8"/>
<circle cx="484.9" cy="483.9" r="3.9" fill="#1f77b4" fill-opacity="0.93" stroke="#000" stroke-opacity="0.8" stroke-width="0.8"/>
<circle cx="484.9" cy="488.0" r="3.9" fill="#1f77b4" fill-opacity="0.93" stroke="#000" stroke-opacity="0.8" stroke-width="0.8"/>
<path d="M487.11,664.46 L488.98,666.32 L486.80,668.50 L488.98,670.68 L487.11,672.54 L484.93,670.37 L482.76,672.54 L480.89,670.68 L483.07,668.50 L480.89,666.32 L482.76,664.46 L484.93,666.63Z" fill="#d62728" fill-opacity="0.92" stroke="#000" stroke-opacity="0.8" stroke-width="0.7" stroke-linejoin="miter"/>
<path d="M487.11,673.26 L488.98,675.12 L486.80,677.30 L488.98,679.48 L487.11,681.34 L484.93,679.17 L482.76,681.34 L480.89,679.48 L483.07,677.30 L480.89,675.12 L482.76,673.26 L484.93,675.43Z" fill="#d62728" fill-opacity="0.92" stroke="#000" stroke-opacity="0.8" stroke-width="0.7" stroke-linejoin="miter"/>
<path d="M487.11,676.46 L488.98,678.32 L486.80,680.50 L488.98,682.68 L487.11,684.54 L484.93,682.37 L482.76,684.54 L480.89,682.68 L483.07,680.50 L480.89,678.32 L482.76,676.46 L484.93,678.63Z" fill="#d62728" fill-opacity="0.92" stroke="#000" stroke-opacity="0.8" stroke-width="0.7" stroke-linejoin="miter"/>
<path d="M487.11,678.96 L488.98,680.82 L486.80,683.00 L488.98,685.18 L487.11,687.04 L484.93,684.87 L482.76,687.04 L480.89,685.18 L483.07,683.00 L480.89,680.82 L482.76,678.96 L484.93,681.13Z" fill="#d62728" fill-opacity="0.92" stroke="#000" stroke-opacity="0.8" stroke-width="0.7" stroke-linejoin="miter"/>
<path d="M487.11,681.46 L488.98,683.32 L486.80,685.50 L488.98,687.68 L487.11,689.54 L484.93,687.37 L482.76,689.54 L480.89,687.68 L483.07,685.50 L480.89,683.32 L482.76,681.46 L484.93,683.63Z" fill="#d62728" fill-opacity="0.92" stroke="#000" stroke-opacity="0.8" stroke-width="0.7" stroke-linejoin="miter"/>
<line x1="496.6" y1="669.2" x2="496.6" y2="683.7" stroke="#ff8c1a" stroke-opacity="0.85" stroke-width="3.0" stroke-linecap="round"/>
<path d="M496.57,665.70 L497.32,667.45 L499.07,668.20 L497.32,668.95 L496.57,670.70 L495.82,668.95 L494.07,668.20 L495.82,667.45Z" fill="#ff8c1a" fill-opacity="0.85"/>
<circle cx="503.6" cy="499.7" r="3.9" fill="#1f77b4" fill-opacity="0.93" stroke="#000" stroke-opacity="0.8" stroke-width="0.8"/>
<circle cx="503.6" cy="503.2" r="3.9" fill="#1f77b4" fill-opacity="0.93" stroke="#000" stroke-opacity="0.8" stroke-width="0.8"/>
<path d="M505.74,664.86 L507.60,666.72 L505.43,668.90 L507.60,671.08 L505.74,672.94 L503.56,670.77 L501.38,672.94 L499.52,671.08 L501.69,668.90 L499.52,666.72 L501.38,664.86 L503.56,667.03Z" fill="#d62728" fill-opacity="0.92" stroke="#000" stroke-opacity="0.8" stroke-width="0.7" stroke-linejoin="miter"/>
<path d="M505.74,674.36 L507.60,676.22 L505.43,678.40 L507.60,680.58 L505.74,682.44 L503.56,680.27 L501.38,682.44 L499.52,680.58 L501.69,678.40 L499.52,676.22 L501.38,674.36 L503.56,676.53Z" fill="#d62728" fill-opacity="0.92" stroke="#000" stroke-opacity="0.8" stroke-width="0.7" stroke-linejoin="miter"/>
<path d="M505.74,677.96 L507.60,679.82 L505.43,682.00 L507.60,684.18 L505.74,686.04 L503.56,683.87 L501.38,686.04 L499.52,684.18 L501.69,682.00 L499.52,679.82 L501.38,677.96 L503.56,680.13Z" fill="#d62728" fill-opacity="0.92" stroke="#000" stroke-opacity="0.8" stroke-width="0.7" stroke-linejoin="miter"/>
<path d="M505.74,680.16 L507.60,682.02 L505.43,684.20 L507.60,686.38 L505.74,688.24 L503.56,686.07 L501.38,688.24 L499.52,686.38 L501.69,684.20 L499.52,682.02 L501.38,680.16 L503.56,682.33Z" fill="#d62728" fill-opacity="0.92" stroke="#000" stroke-opacity="0.8" stroke-width="0.7" stroke-linejoin="miter"/>
<path d="M513.72,662.66 L515.59,664.52 L513.41,666.70 L515.59,668.88 L513.72,670.74 L511.54,668.57 L509.36,670.74 L507.50,668.88 L509.68,666.70 L507.50,664.52 L509.36,662.66 L511.54,664.83Z" fill="#d62728" fill-opacity="0.92" stroke="#000" stroke-opacity="0.8" stroke-width="0.7" stroke-linejoin="miter"/>
<path d="M513.72,666.36 L515.59,668.22 L513.41,670.40 L515.59,672.58 L513.72,674.44 L511.54,672.27 L509.36,674.44 L507.50,672.58 L509.68,670.40 L507.50,668.22 L509.36,666.36 L511.54,668.53Z" fill="#d62728" fill-opacity="0.92" stroke="#000" stroke-opacity="0.8" stroke-width="0.7" stroke-linejoin="miter"/>
<path d="M513.72,670.66 L515.59,672.52 L513.41,674.70 L515.59,676.88 L513.72,678.74 L511.54,676.57 L509.36,678.74 L507.50,676.88 L509.68,674.70 L507.50,672.52 L509.36,670.66 L511.54,672.83Z" fill="#d62728" fill-opacity="0.92" stroke="#000" stroke-opacity="0.8" stroke-width="0.7" stroke-linejoin="miter"/>
<path d="M513.72,674.36 L515.59,676.22 L513.41,678.40 L515.59,680.58 L513.72,682.44 L511.54,680.27 L509.36,682.44 L507.50,680.58 L509.68,678.40 L507.50,676.22 L509.36,674.36 L511.54,676.53Z" fill="#d62728" fill-opacity="0.92" stroke="#000" stroke-opacity="0.8" stroke-width="0.7" stroke-linejoin="miter"/>
<path d="M513.72,678.76 L515.59,680.62 L513.41,682.80 L515.59,684.98 L513.72,686.84 L511.54,684.67 L509.36,686.84 L507.50,684.98 L509.68,682.80 L507.50,680.62 L509.36,678.76 L511.54,680.93Z" fill="#d62728" fill-opacity="0.92" stroke="#000" stroke-opacity="0.8" stroke-width="0.7" stroke-linejoin="miter"/>
<circle cx="531.5" cy="520.8" r="3.9" fill="#1f77b4" fill-opacity="0.93" stroke="#000" stroke-opacity="0.8" stroke-width="0.8"/>
<circle cx="531.5" cy="523.8" r="3.9" fill="#1f77b4" fill-opacity="0.93" stroke="#000" stroke-opacity="0.8" stroke-width="0.8"/>
<circle cx="531.5" cy="527.0" r="3.9" fill="#1f77b4" fill-opacity="0.93" stroke="#000" stroke-opacity="0.8" stroke-width="0.8"/>
<circle cx="531.5" cy="534.8" r="3.9" fill="#1f77b4" fill-opacity="0.93" stroke="#000" stroke-opacity="0.8" stroke-width="0.8"/>
<path d="M531.50,661.30 L532.25,663.05 L534.00,663.80 L532.25,664.55 L531.50,666.30 L530.75,664.55 L529.00,663.80 L530.75,663.05Z" fill="#ff8c1a" fill-opacity="0.85"/>
<path d="M533.68,661.96 L535.54,663.82 L533.37,666.00 L535.54,668.18 L533.68,670.04 L531.50,667.87 L529.32,670.04 L527.46,668.18 L529.63,666.00 L527.46,663.82 L529.32,661.96 L531.50,664.13Z" fill="#d62728" fill-opacity="0.92" stroke="#000" stroke-opacity="0.8" stroke-width="0.7" stroke-linejoin="miter"/>
<path d="M533.68,665.56 L535.54,667.42 L533.37,669.60 L535.54,671.78 L533.68,673.64 L531.50,671.47 L529.32,673.64 L527.46,671.78 L529.63,669.60 L527.46,667.42 L529.32,665.56 L531.50,667.73Z" fill="#d62728" fill-opacity="0.92" stroke="#000" stroke-opacity="0.8" stroke-width="0.7" stroke-linejoin="miter"/>
<path d="M533.68,669.26 L535.54,671.12 L533.37,673.30 L535.54,675.48 L533.68,677.34 L531.50,675.17 L529.32,677.34 L527.46,675.48 L529.63,673.30 L527.46,671.12 L529.32,669.26 L531.50,671.43Z" fill="#d62728" fill-opacity="0.92" stroke="#000" stroke-opacity="0.8" stroke-width="0.7" stroke-linejoin="miter"/>
<path d="M533.68,672.86 L535.54,674.72 L533.37,676.90 L535.54,679.08 L533.68,680.94 L531.50,678.77 L529.32,680.94 L527.46,679.08 L529.63,676.90 L527.46,674.72 L529.32,672.86 L531.50,675.03Z" fill="#d62728" fill-opacity="0.92" stroke="#000" stroke-opacity="0.8" stroke-width="0.7" stroke-linejoin="miter"/>
<path d="M533.68,675.86 L535.54,677.72 L533.37,679.90 L535.54,682.08 L533.68,683.94 L531.50,681.77 L529.32,683.94 L527.46,682.08 L529.63,679.90 L527.46,677.72 L529.32,675.86 L531.50,678.03Z" fill="#d62728" fill-opacity="0.92" stroke="#000" stroke-opacity="0.8" stroke-width="0.7" stroke-linejoin="miter"/>
<path d="M533.68,678.76 L535.54,680.62 L533.37,682.80 L535.54,684.98 L533.68,686.84 L531.50,684.67 L529.32,686.84 L527.46,684.98 L529.63,682.80 L527.46,680.62 L529.32,678.76 L531.50,680.93Z" fill="#d62728" fill-opacity="0.92" stroke="#000" stroke-opacity="0.8" stroke-width="0.7" stroke-linejoin="miter"/>
<path d="M553.64,659.76 L555.50,661.62 L553.32,663.80 L555.50,665.98 L553.64,667.84 L551.46,665.67 L549.28,667.84 L547.41,665.98 L549.59,663.80 L547.41,661.62 L549.28,659.76 L551.46,661.93Z" fill="#d62728" fill-opacity="0.92" stroke="#000" stroke-opacity="0.8" stroke-width="0.7" stroke-linejoin="miter"/>
<path d="M553.64,662.66 L555.50,664.52 L553.32,666.70 L555.50,668.88 L553.64,670.74 L551.46,668.57 L549.28,670.74 L547.41,668.88 L549.59,666.70 L547.41,664.52 L549.28,662.66 L551.46,664.83Z" fill="#d62728" fill-opacity="0.92" stroke="#000" stroke-opacity="0.8" stroke-width="0.7" stroke-linejoin="miter"/>
<path d="M553.64,666.36 L555.50,668.22 L553.32,670.40 L555.50,672.58 L553.64,674.44 L551.46,672.27 L549.28,674.44 L547.41,672.58 L549.59,670.40 L547.41,668.22 L549.28,666.36 L551.46,668.53Z" fill="#d62728" fill-opacity="0.92" stroke="#000" stroke-opacity="0.8" stroke-width="0.7" stroke-linejoin="miter"/>
<path d="M553.64,669.96 L555.50,671.82 L553.32,674.00 L555.50,676.18 L553.64,678.04 L551.46,675.87 L549.28,678.04 L547.41,676.18 L549.59,674.00 L547.41,671.82 L549.28,669.96 L551.46,672.13Z" fill="#d62728" fill-opacity="0.92" stroke="#000" stroke-opacity="0.8" stroke-width="0.7" stroke-linejoin="miter"/>
<path d="M553.64,672.86 L555.50,674.72 L553.32,676.90 L555.50,679.08 L553.64,680.94 L551.46,678.77 L549.28,680.94 L547.41,679.08 L549.59,676.90 L547.41,674.72 L549.28,672.86 L551.46,675.03Z" fill="#d62728" fill-opacity="0.92" stroke="#000" stroke-opacity="0.8" stroke-width="0.7" stroke-linejoin="miter"/>
<circle cx="559.4" cy="548.2" r="3.9" fill="#1f77b4" fill-opacity="0.93" stroke="#000" stroke-opacity="0.8" stroke-width="0.8"/>
<circle cx="559.4" cy="553.4" r="3.9" fill="#1f77b4" fill-opacity="0.93" stroke="#000" stroke-opacity="0.8" stroke-width="0.8"/>
<circle cx="559.4" cy="558.7" r="3.9" fill="#1f77b4" fill-opacity="0.93" stroke="#000" stroke-opacity="0.8" stroke-width="0.8"/>
<path d="M561.62,660.46 L563.48,662.32 L561.31,664.50 L563.48,666.68 L561.62,668.54 L559.44,666.37 L557.26,668.54 L555.40,666.68 L557.57,664.50 L555.40,662.32 L557.26,660.46 L559.44,662.63Z" fill="#d62728" fill-opacity="0.92" stroke="#000" stroke-opacity="0.8" stroke-width="0.7" stroke-linejoin="miter"/>
<path d="M561.62,664.16 L563.48,666.02 L561.31,668.20 L563.48,670.38 L561.62,672.24 L559.44,670.07 L557.26,672.24 L555.40,670.38 L557.57,668.20 L555.40,666.02 L557.26,664.16 L559.44,666.33Z" fill="#d62728" fill-opacity="0.92" stroke="#000" stroke-opacity="0.8" stroke-width="0.7" stroke-linejoin="miter"/>
<path d="M561.62,667.06 L563.48,668.92 L561.31,671.10 L563.48,673.28 L561.62,675.14 L559.44,672.97 L557.26,675.14 L555.40,673.28 L557.57,671.10 L555.40,668.92 L557.26,667.06 L559.44,669.23Z" fill="#d62728" fill-opacity="0.92" stroke="#000" stroke-opacity="0.8" stroke-width="0.7" stroke-linejoin="miter"/>
<path d="M561.62,669.96 L563.48,671.82 L561.31,674.00 L563.48,676.18 L561.62,678.04 L559.44,675.87 L557.26,678.04 L555.40,676.18 L557.57,674.00 L555.40,671.82 L557.26,669.96 L559.44,672.13Z" fill="#d62728" fill-opacity="0.92" stroke="#000" stroke-opacity="0.8" stroke-width="0.7" stroke-linejoin="miter"/>
<line x1="566.4" y1="660.3" x2="566.4" y2="673.7" stroke="#ff8c1a" stroke-opacity="0.85" stroke-width="3.0" stroke-linecap="round"/>
<path d="M566.42,656.80 L567.17,658.55 L568.92,659.30 L567.17,660.05 L566.42,661.80 L565.67,660.05 L563.92,659.30 L565.67,658.55Z" fill="#ff8c1a" fill-opacity="0.85"/>
<circle cx="578.1" cy="564.0" r="3.9" fill="#1f77b4" fill-opacity="0.93" stroke="#000" stroke-opacity="0.8" stroke-width="0.8"/>
<circle cx="578.1" cy="567.4" r="3.9" fill="#1f77b4" fill-opacity="0.93" stroke="#000" stroke-opacity="0.8" stroke-width="0.8"/>
<circle cx="578.1" cy="570.1" r="3.9" fill="#1f77b4" fill-opacity="0.93" stroke="#000" stroke-opacity="0.8" stroke-width="0.8"/>
<circle cx="578.1" cy="573.6" r="3.9" fill="#1f77b4" fill-opacity="0.93" stroke="#000" stroke-opacity="0.8" stroke-width="0.8"/>
<circle cx="578.1" cy="578.0" r="3.9" fill="#1f77b4" fill-opacity="0.93" stroke="#000" stroke-opacity="0.8" stroke-width="0.8"/>
<path d="M580.24,656.96 L582.11,658.82 L579.93,661.00 L582.11,663.18 L580.24,665.04 L578.07,662.87 L575.89,665.04 L574.02,663.18 L576.20,661.00 L574.02,658.82 L575.89,656.96 L578.07,659.13Z" fill="#d62728" fill-opacity="0.92" stroke="#000" stroke-opacity="0.8" stroke-width="0.7" stroke-linejoin="miter"/>
<path d="M580.24,659.86 L582.11,661.72 L579.93,663.90 L582.11,666.08 L580.24,667.94 L578.07,665.77 L575.89,667.94 L574.02,666.08 L576.20,663.90 L574.02,661.72 L575.89,659.86 L578.07,662.03Z" fill="#d62728" fill-opacity="0.92" stroke="#000" stroke-opacity="0.8" stroke-width="0.7" stroke-linejoin="miter"/>
<path d="M580.24,662.76 L582.11,664.62 L579.93,666.80 L582.11,668.98 L580.24,670.84 L578.07,668.67 L575.89,670.84 L574.02,668.98 L576.20,666.80 L574.02,664.62 L575.89,662.76 L578.07,664.93Z" fill="#d62728" fill-opacity="0.92" stroke="#000" stroke-opacity="0.8" stroke-width="0.7" stroke-linejoin="miter"/>
<path d="M580.24,665.66 L582.11,667.52 L579.93,669.70 L582.11,671.88 L580.24,673.74 L578.07,671.57 L575.89,673.74 L574.02,671.88 L576.20,669.70 L574.02,667.52 L575.89,665.66 L578.07,667.83Z" fill="#d62728" fill-opacity="0.92" stroke="#000" stroke-opacity="0.8" stroke-width="0.7" stroke-linejoin="miter"/>
<path d="M593.55,651.06 L595.42,652.92 L593.24,655.10 L595.42,657.28 L593.55,659.14 L591.37,656.97 L589.19,659.14 L587.33,657.28 L589.50,655.10 L587.33,652.92 L589.19,651.06 L591.37,653.23Z" fill="#d62728" fill-opacity="0.92" stroke="#000" stroke-opacity="0.8" stroke-width="0.7" stroke-linejoin="miter"/>
<path d="M593.55,654.56 L595.42,656.42 L593.24,658.60 L595.42,660.78 L593.55,662.64 L591.37,660.47 L589.19,662.64 L587.33,660.78 L589.50,658.60 L587.33,656.42 L589.19,654.56 L591.37,656.73Z" fill="#d62728" fill-opacity="0.92" stroke="#000" stroke-opacity="0.8" stroke-width="0.7" stroke-linejoin="miter"/>
<path d="M593.55,657.46 L595.42,659.32 L593.24,661.50 L595.42,663.68 L593.55,665.54 L591.37,663.37 L589.19,665.54 L587.33,663.68 L589.50,661.50 L587.33,659.32 L589.19,657.46 L591.37,659.63Z" fill="#d62728" fill-opacity="0.92" stroke="#000" stroke-opacity="0.8" stroke-width="0.7" stroke-linejoin="miter"/>
<path d="M593.55,660.96 L595.42,662.82 L593.24,665.00 L595.42,667.18 L593.55,669.04 L591.37,666.87 L589.19,669.04 L587.33,667.18 L589.50,665.00 L587.33,662.82 L589.19,660.96 L591.37,663.13Z" fill="#d62728" fill-opacity="0.92" stroke="#000" stroke-opacity="0.8" stroke-width="0.7" stroke-linejoin="miter"/>
<path d="M593.55,667.46 L595.42,669.32 L593.24,671.50 L595.42,673.68 L593.55,675.54 L591.37,673.37 L589.19,675.54 L587.33,673.68 L589.50,671.50 L587.33,669.32 L589.19,667.46 L591.37,669.63Z" fill="#d62728" fill-opacity="0.92" stroke="#000" stroke-opacity="0.8" stroke-width="0.7" stroke-linejoin="miter"/>
<circle cx="601.4" cy="591.8" r="3.9" fill="#1f77b4" fill-opacity="0.93" stroke="#000" stroke-opacity="0.8" stroke-width="0.8"/>
<circle cx="601.4" cy="596.0" r="3.9" fill="#1f77b4" fill-opacity="0.93" stroke="#000" stroke-opacity="0.8" stroke-width="0.8"/>
<path d="M601.35,652.00 L602.10,653.75 L603.85,654.50 L602.10,655.25 L601.35,657.00 L600.60,655.25 L598.85,654.50 L600.60,653.75Z" fill="#ff8c1a" fill-opacity="0.85"/>
<path d="M603.53,652.86 L605.39,654.72 L603.22,656.90 L605.39,659.08 L603.53,660.94 L601.35,658.77 L599.17,660.94 L597.31,659.08 L599.48,656.90 L597.31,654.72 L599.17,652.86 L601.35,655.03Z" fill="#d62728" fill-opacity="0.92" stroke="#000" stroke-opacity="0.8" stroke-width="0.7" stroke-linejoin="miter"/>
<path d="M603.53,655.76 L605.39,657.62 L603.22,659.80 L605.39,661.98 L603.53,663.84 L601.35,661.67 L599.17,663.84 L597.31,661.98 L599.48,659.80 L597.31,657.62 L599.17,655.76 L601.35,657.93Z" fill="#d62728" fill-opacity="0.92" stroke="#000" stroke-opacity="0.8" stroke-width="0.7" stroke-linejoin="miter"/>
<path d="M603.53,659.26 L605.39,661.12 L603.22,663.30 L605.39,665.48 L603.53,667.34 L601.35,665.17 L599.17,667.34 L597.31,665.48 L599.48,663.30 L597.31,661.12 L599.17,659.26 L601.35,661.43Z" fill="#d62728" fill-opacity="0.92" stroke="#000" stroke-opacity="0.8" stroke-width="0.7" stroke-linejoin="miter"/>
<circle cx="615.3" cy="607.0" r="3.9" fill="#1f77b4" fill-opacity="0.93" stroke="#000" stroke-opacity="0.8" stroke-width="0.8"/>
<circle cx="615.3" cy="612.1" r="3.9" fill="#1f77b4" fill-opacity="0.93" stroke="#000" stroke-opacity="0.8" stroke-width="0.8"/>
<path d="M617.50,651.46 L619.36,653.32 L617.19,655.50 L619.36,657.68 L617.50,659.54 L615.32,657.37 L613.14,659.54 L611.28,657.68 L613.45,655.50 L611.28,653.32 L613.14,651.46 L615.32,653.63Z" fill="#d62728" fill-opacity="0.92" stroke="#000" stroke-opacity="0.8" stroke-width="0.7" stroke-linejoin="miter"/>
<path d="M617.50,653.56 L619.36,655.42 L617.19,657.60 L619.36,659.78 L617.50,661.64 L615.32,659.47 L613.14,661.64 L611.28,659.78 L613.45,657.60 L611.28,655.42 L613.14,653.56 L615.32,655.73Z" fill="#d62728" fill-opacity="0.92" stroke="#000" stroke-opacity="0.8" stroke-width="0.7" stroke-linejoin="miter"/>
<circle cx="624.6" cy="616.8" r="3.9" fill="#1f77b4" fill-opacity="0.93" stroke="#000" stroke-opacity="0.8" stroke-width="0.8"/>
<circle cx="624.6" cy="620.9" r="3.9" fill="#1f77b4" fill-opacity="0.93" stroke="#000" stroke-opacity="0.8" stroke-width="0.8"/>
<path d="M626.81,645.46 L628.68,647.32 L626.50,649.50 L628.68,651.68 L626.81,653.54 L624.63,651.37 L622.46,653.54 L620.59,651.68 L622.77,649.50 L620.59,647.32 L622.46,645.46 L624.63,647.63Z" fill="#d62728" fill-opacity="0.92" stroke="#000" stroke-opacity="0.8" stroke-width="0.7" stroke-linejoin="miter"/>
<path d="M626.81,647.96 L628.68,649.82 L626.50,652.00 L628.68,654.18 L626.81,656.04 L624.63,653.87 L622.46,656.04 L620.59,654.18 L622.77,652.00 L620.59,649.82 L622.46,647.96 L624.63,650.13Z" fill="#d62728" fill-opacity="0.92" stroke="#000" stroke-opacity="0.8" stroke-width="0.7" stroke-linejoin="miter"/>
<path d="M626.81,650.76 L628.68,652.62 L626.50,654.80 L628.68,656.98 L626.81,658.84 L624.63,656.67 L622.46,658.84 L620.59,656.98 L622.77,654.80 L620.59,652.62 L622.46,650.76 L624.63,652.93Z" fill="#d62728" fill-opacity="0.92" stroke="#000" stroke-opacity="0.8" stroke-width="0.7" stroke-linejoin="miter"/>
<path d="M633.46,641.76 L635.33,643.62 L633.15,645.80 L635.33,647.98 L633.46,649.84 L631.29,647.67 L629.11,649.84 L627.24,647.98 L629.42,645.80 L627.24,643.62 L629.11,641.76 L631.29,643.93Z" fill="#d62728" fill-opacity="0.92" stroke="#000" stroke-opacity="0.8" stroke-width="0.7" stroke-linejoin="miter"/>
<path d="M633.46,644.66 L635.33,646.52 L633.15,648.70 L635.33,650.88 L633.46,652.74 L631.29,650.57 L629.11,652.74 L627.24,650.88 L629.42,648.70 L627.24,646.52 L629.11,644.66 L631.29,646.83Z" fill="#d62728" fill-opacity="0.92" stroke="#000" stroke-opacity="0.8" stroke-width="0.7" stroke-linejoin="miter"/>
<path d="M633.46,648.96 L635.33,650.82 L633.15,653.00 L635.33,655.18 L633.46,657.04 L631.29,654.87 L629.11,657.04 L627.24,655.18 L629.42,653.00 L627.24,650.82 L629.11,648.96 L631.29,651.13Z" fill="#d62728" fill-opacity="0.92" stroke="#000" stroke-opacity="0.8" stroke-width="0.7" stroke-linejoin="miter"/>
<path d="M636.27,644.50 L637.02,646.25 L638.77,647.00 L637.02,647.75 L636.27,649.50 L635.52,647.75 L633.77,647.00 L635.52,646.25Z" fill="#ff8c1a" fill-opacity="0.85"/>
<circle cx="671.2" cy="669.8" r="3.9" fill="#1f77b4" fill-opacity="0.93" stroke="#000" stroke-opacity="0.8" stroke-width="0.8"/>
<path d="M673.38,627.76 L675.24,629.62 L673.07,631.80 L675.24,633.98 L673.38,635.84 L671.20,633.67 L669.02,635.84 L667.16,633.98 L669.33,631.80 L667.16,629.62 L669.02,627.76 L671.20,629.93Z" fill="#d62728" fill-opacity="0.92" stroke="#000" stroke-opacity="0.8" stroke-width="0.7" stroke-linejoin="miter"/>
</g>
<rect x="391.8" y="398.4" width="279.40000000000003" height="301.6" fill="none" stroke="#000" stroke-width="0.9"/>
<line x1="387.8" y1="669.80" x2="391.8" y2="669.80" stroke="#000" stroke-width="0.9"/>
<g transform="translate(382.60,674.20)" fill="#000"><text x="-19.88" y="0.00" font-size="13.25" textLength="19.88" lengthAdjust="spacingAndGlyphs">0.0</text></g>
<line x1="387.8" y1="610.60" x2="391.8" y2="610.60" stroke="#000" stroke-width="0.9"/>
<g transform="translate(382.60,615.00)" fill="#000"><text x="-19.88" y="0.00" font-size="13.25" textLength="19.88" lengthAdjust="spacingAndGlyphs">0.1</text></g>
<line x1="387.8" y1="551.40" x2="391.8" y2="551.40" stroke="#000" stroke-width="0.9"/>
<g transform="translate(382.60,555.80)" fill="#000"><text x="-19.88" y="0.00" font-size="13.25" textLength="19.88" lengthAdjust="spacingAndGlyphs">0.2</text></g>
<line x1="387.8" y1="492.20" x2="391.8" y2="492.20" stroke="#000" stroke-width="0.9"/>
<g transform="translate(382.60,496.60)" fill="#000"><text x="-19.88" y="0.00" font-size="13.25" textLength="19.88" lengthAdjust="spacingAndGlyphs">0.3</text></g>
<line x1="387.8" y1="433.00" x2="391.8" y2="433.00" stroke="#000" stroke-width="0.9"/>
<g transform="translate(382.60,437.40)" fill="#000"><text x="-19.88" y="0.00" font-size="13.25" textLength="19.88" lengthAdjust="spacingAndGlyphs">0.4</text></g>
<line x1="389.5" y1="699.40" x2="391.8" y2="699.40" stroke="#000" stroke-width="0.7"/>
<line x1="389.5" y1="684.60" x2="391.8" y2="684.60" stroke="#000" stroke-width="0.7"/>
<line x1="389.5" y1="655.00" x2="391.8" y2="655.00" stroke="#000" stroke-width="0.7"/>
<line x1="389.5" y1="640.20" x2="391.8" y2="640.20" stroke="#000" stroke-width="0.7"/>
<line x1="389.5" y1="625.40" x2="391.8" y2="625.40" stroke="#000" stroke-width="0.7"/>
<line x1="389.5" y1="595.80" x2="391.8" y2="595.80" stroke="#000" stroke-width="0.7"/>
<line x1="389.5" y1="581.00" x2="391.8" y2="581.00" stroke="#000" stroke-width="0.7"/>
<line x1="389.5" y1="566.20" x2="391.8" y2="566.20" stroke="#000" stroke-width="0.7"/>
<line x1="389.5" y1="536.60" x2="391.8" y2="536.60" stroke="#000" stroke-width="0.7"/>
<line x1="389.5" y1="521.80" x2="391.8" y2="521.80" stroke="#000" stroke-width="0.7"/>
<line x1="389.5" y1="507.00" x2="391.8" y2="507.00" stroke="#000" stroke-width="0.7"/>
<line x1="389.5" y1="477.40" x2="391.8" y2="477.40" stroke="#000" stroke-width="0.7"/>
<line x1="389.5" y1="462.60" x2="391.8" y2="462.60" stroke="#000" stroke-width="0.7"/>
<line x1="389.5" y1="447.80" x2="391.8" y2="447.80" stroke="#000" stroke-width="0.7"/>
<line x1="389.5" y1="418.20" x2="391.8" y2="418.20" stroke="#000" stroke-width="0.7"/>
<line x1="389.5" y1="403.40" x2="391.8" y2="403.40" stroke="#000" stroke-width="0.7"/>
<line x1="391.80" y1="700.0" x2="391.80" y2="704.0" stroke="#000" stroke-width="0.9"/>
<g transform="translate(391.80,718.40)" fill="#000"><text x="-12.11" y="0.00" font-size="13.25" textLength="18.66" lengthAdjust="spacingAndGlyphs">TiS</text><text x="6.55" y="2.12" font-size="9.28" textLength="5.57" lengthAdjust="spacingAndGlyphs">2</text></g>
<line x1="447.68" y1="700.0" x2="447.68" y2="704.0" stroke="#000" stroke-width="0.9"/>
<g transform="translate(447.68,718.40)" fill="#000"><text x="-9.94" y="0.00" font-size="13.25" textLength="19.88" lengthAdjust="spacingAndGlyphs">0.2</text></g>
<line x1="503.56" y1="700.0" x2="503.56" y2="704.0" stroke="#000" stroke-width="0.9"/>
<g transform="translate(503.56,718.40)" fill="#000"><text x="-9.94" y="0.00" font-size="13.25" textLength="19.88" lengthAdjust="spacingAndGlyphs">0.4</text></g>
<line x1="559.44" y1="700.0" x2="559.44" y2="704.0" stroke="#000" stroke-width="0.9"/>
<g transform="translate(559.44,718.40)" fill="#000"><text x="-9.94" y="0.00" font-size="13.25" textLength="19.88" lengthAdjust="spacingAndGlyphs">0.6</text></g>
<line x1="615.32" y1="700.0" x2="615.32" y2="704.0" stroke="#000" stroke-width="0.9"/>
<g transform="translate(615.32,718.40)" fill="#000"><text x="-9.94" y="0.00" font-size="13.25" textLength="19.88" lengthAdjust="spacingAndGlyphs">0.8</text></g>
<line x1="671.20" y1="700.0" x2="671.20" y2="704.0" stroke="#000" stroke-width="0.9"/>
<g transform="translate(671.20,718.40)" fill="#000"><text x="-13.36" y="0.00" font-size="13.25" textLength="21.16" lengthAdjust="spacingAndGlyphs">TaS</text><text x="7.80" y="2.12" font-size="9.28" textLength="5.57" lengthAdjust="spacingAndGlyphs">2</text></g>
<line x1="419.74" y1="700.0" x2="419.74" y2="702.3" stroke="#000" stroke-width="0.7"/>
<line x1="475.62" y1="700.0" x2="475.62" y2="702.3" stroke="#000" stroke-width="0.7"/>
<line x1="531.50" y1="700.0" x2="531.50" y2="702.3" stroke="#000" stroke-width="0.7"/>
<line x1="587.38" y1="700.0" x2="587.38" y2="702.3" stroke="#000" stroke-width="0.7"/>
<line x1="643.26" y1="700.0" x2="643.26" y2="702.3" stroke="#000" stroke-width="0.7"/>
<rect x="516.9" y="404.7" width="148.1" height="44.9" rx="2.5" fill="#fff" fill-opacity="0.8" stroke="#d0d0d0" stroke-width="0.9"/>
<circle cx="534.7" cy="415.4" r="4.1" fill="#1f77b4" fill-opacity="0.7" stroke="#000" stroke-opacity="0.3" stroke-width="0.6"/>
<path d="M536.53,433.10 L538.10,434.67 L536.27,436.50 L538.10,438.33 L536.53,439.90 L534.70,438.07 L532.87,439.90 L531.30,438.33 L533.13,436.50 L531.30,434.67 L532.87,433.10 L534.70,434.93Z" fill="#d62728" fill-opacity="0.68" stroke="#000" stroke-opacity="0.3" stroke-width="0.7" stroke-linejoin="miter"/>
<g transform="translate(558.80,419.80)" fill="#000"><text x="0.00" y="0.00" font-size="13.25" textLength="93.97" lengthAdjust="spacingAndGlyphs">prototype MoS</text><text x="93.97" y="2.12" font-size="9.28" textLength="5.73" lengthAdjust="spacingAndGlyphs">2</text></g>
<g transform="translate(558.80,440.70)" fill="#000"><text x="0.00" y="0.00" font-size="13.25" textLength="87.86" lengthAdjust="spacingAndGlyphs">prototype CdI</text><text x="87.86" y="2.12" font-size="9.28" textLength="5.74" lengthAdjust="spacingAndGlyphs">2</text></g>
<g transform="translate(531.20,736.40)" fill="#000"><text x="-88.00" y="0.00" font-size="13.25" textLength="91.53" lengthAdjust="spacingAndGlyphs">Concentration</text><text x="7.64" y="0.00" font-size="13.25" font-style="italic" textLength="7.66" lengthAdjust="spacingAndGlyphs">x</text><text x="19.41" y="0.00" font-size="13.25" textLength="11.10" lengthAdjust="spacingAndGlyphs">Ti</text><text x="30.51" y="2.12" font-size="9.28" textLength="16.23" lengthAdjust="spacingAndGlyphs">1 −</text><text x="49.62" y="2.12" font-size="9.28" font-style="italic" textLength="5.36" lengthAdjust="spacingAndGlyphs">x</text><text x="54.98" y="0.00" font-size="13.25" textLength="13.69" lengthAdjust="spacingAndGlyphs">Ta</text><text x="68.67" y="2.12" font-size="9.28" font-style="italic" textLength="5.36" lengthAdjust="spacingAndGlyphs">x</text><text x="74.03" y="0.00" font-size="13.25" textLength="8.21" lengthAdjust="spacingAndGlyphs">S</text><text x="82.24" y="2.12" font-size="9.28" textLength="5.76" lengthAdjust="spacingAndGlyphs">2</text></g>
<g transform="translate(353.40,549.00) rotate(-90)" fill="#000"><text x="-96.65" y="0.00" font-size="13.25" textLength="116.03" lengthAdjust="spacingAndGlyphs">Formation energy</text><text x="23.55" y="0.00" font-size="13.25" font-style="italic" textLength="8.28" lengthAdjust="spacingAndGlyphs">E</text><text x="31.84" y="2.12" font-size="9.28" textLength="5.28" lengthAdjust="spacingAndGlyphs">F</text><text x="41.28" y="0.00" font-size="13.25" textLength="55.37" lengthAdjust="spacingAndGlyphs">[eV/site]</text></g>
<text x="497.00" y="772.8" font-size="16.8" fill="#000" textLength="78.75" lengthAdjust="spacingAndGlyphs">(d) (Ti:Ta)S</text><text x="575.75" y="774.6999999999999" font-size="11.42" fill="#000">2</text>
</svg></body></html>
